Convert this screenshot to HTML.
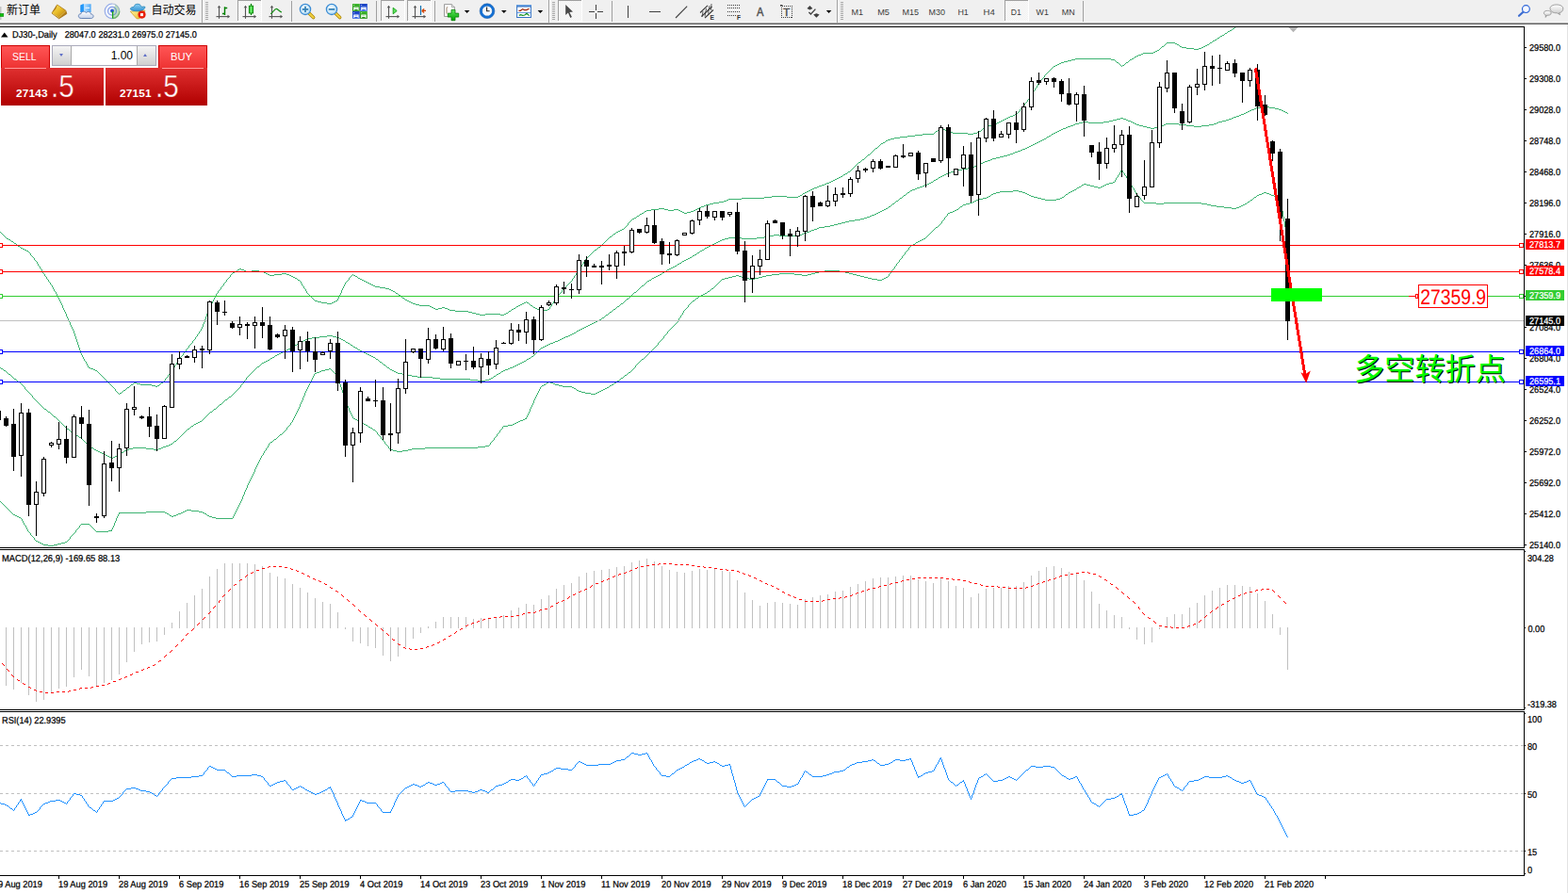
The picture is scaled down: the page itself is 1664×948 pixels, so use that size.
<!DOCTYPE html>
<html><head><meta charset="utf-8"><title>DJ30-,Daily</title>
<style>
html,body{margin:0;padding:0;background:#fff;}
body{width:1664px;height:948px;overflow:hidden;position:relative;font-family:"Liberation Sans",sans-serif;}
svg{display:block}
svg text{font-family:"Liberation Sans",sans-serif;}
.edge{position:absolute;left:1663px;top:26px;width:1px;height:922px;background:#e3e3e3}
</style></head><body>
<svg width="1664" height="948" viewBox="0 0 1664 948" style="position:absolute;left:0;top:0" font-family="Liberation Sans, sans-serif">
<defs>
<clipPath id="cm"><rect x="0" y="29" width="1617" height="552"/></clipPath>
<clipPath id="c2"><rect x="0" y="584" width="1617" height="169"/></clipPath>
<clipPath id="c3"><rect x="0" y="756" width="1617" height="173"/></clipPath>
</defs>
<g shape-rendering="crispEdges" fill="#000">
<rect x="0" y="28" width="1618" height="1"/>
<rect x="1617" y="28" width="1" height="902"/>
<rect x="0" y="581" width="1618" height="1"/>
<rect x="0" y="583" width="1618" height="1"/>
<rect x="0" y="753" width="1618" height="1"/>
<rect x="0" y="755" width="1618" height="1"/>
<rect x="0" y="929" width="1618" height="1"/>
<rect x="1617" y="582" width="1" height="1" fill="#fff"/>
<rect x="1617" y="754" width="1" height="1" fill="#fff"/>
</g>
<g clip-path="url(#cm)">
<path fill="none" stroke="#3cb371" stroke-width="1" shape-rendering="crispEdges" d="M1308 30.5h2M1305 32.5h2M1303 33.5h2M1300 35.5h2M1297 37.5h2M1295 38.5h2M1292 40.5h2M1289 42.5h2M1287 43.5h2M1238 45.5h9M1284 45.5h2M1247 46.5h2M1249 47.5h2M1281 47.5h2M1279 48.5h2M1233 49.5h2M1252 49.5h2M1277 49.5h2M1254 50.5h5M1275 50.5h2M1259 51.5h8M1272 51.5h3M1267 52.5h5M1228 53.5h2M1226 54.5h2M1224 55.5h2M1213 56.5h11M1211 57.5h2M1208 58.5h3M1206 59.5h2M1204 60.5h2M1141 62.5h38M1201 62.5h2M1137 63.5h4M1179 63.5h4M1199 63.5h2M1133 64.5h4M1129 65.5h4M1126 66.5h3M1185 66.5h2M1195 66.5h2M1124 67.5h2M1122 68.5h2M1120 69.5h2M1191 69.5h2M1118 70.5h2M1077 121.5h2M1075 122.5h2M1072 123.5h3M1070 124.5h2M1068 125.5h2M1066 126.5h2M1064 127.5h2M1062 128.5h2M1060 129.5h2M1058 130.5h2M1056 131.5h2M1053 132.5h3M1049 133.5h4M1046 134.5h3M999 136.5h2M1043 136.5h2M1001 137.5h2M993 139.5h2M1004 139.5h2M1039 139.5h2M1006 140.5h5M1037 140.5h2M1011 141.5h16M1033 141.5h4M979 142.5h12M1027 142.5h6M971 143.5h8M963 144.5h8M955 145.5h8M949 146.5h6M945 147.5h4M942 148.5h3M940 149.5h2M937 151.5h2M935 152.5h2M929 157.5h2M921 164.5h2M915 169.5h2M911 172.5h2M900 182.5h2M897 184.5h2M895 185.5h2M892 187.5h2M890 188.5h2M888 189.5h2M886 190.5h2M884 191.5h2M882 192.5h2M880 193.5h2M877 194.5h3M875 195.5h2M872 196.5h3M869 197.5h3M867 198.5h2M864 199.5h3M862 200.5h2M860 201.5h2M858 202.5h2M856 203.5h2M854 204.5h2M852 205.5h2M849 207.5h2M819 208.5h16M847 208.5h2M811 209.5h8M835 209.5h12M787 210.5h24M773 211.5h14M771 212.5h2M768 213.5h3M763 214.5h5M757 215.5h6M753 216.5h4M749 217.5h4M747 218.5h2M744 219.5h3M742 220.5h2M699 221.5h6M740 221.5h2M691 222.5h8M705 222.5h4M715 222.5h5M738 222.5h2M686 223.5h5M709 223.5h6M720 223.5h2M736 223.5h2M684 224.5h2M722 224.5h2M733 224.5h3M724 225.5h2M729 225.5h4M681 226.5h2M726 226.5h3M679 227.5h2M676 229.5h2M673 231.5h2M671 232.5h2M660 243.5h2M658 244.5h2M656 245.5h2M654 246.5h2M651 248.5h2M647 251.5h2M7 253.5h2M9 254.5h2M12 256.5h2M15 258.5h2M19 261.5h2M635 262.5h2M22 263.5h2M24 264.5h2M26 265.5h2M631 265.5h2M28 266.5h2M254 285.5h2M252 286.5h2M256 286.5h3M259 287.5h2M267 287.5h8M249 288.5h2M261 288.5h6M275 288.5h5M247 289.5h2M280 289.5h2M282 290.5h2M299 290.5h5M284 291.5h2M291 291.5h8M304 291.5h3M286 292.5h5M307 292.5h2M375 292.5h2M309 293.5h2M377 293.5h2M311 294.5h2M313 295.5h2M380 295.5h2M382 296.5h2M316 297.5h2M384 297.5h2M386 298.5h2M388 299.5h2M390 300.5h2M392 301.5h2M394 302.5h2M396 303.5h2M398 304.5h5M403 305.5h6M409 306.5h4M413 307.5h2M415 308.5h2M417 309.5h2M420 311.5h2M423 313.5h2M427 316.5h2M430 318.5h2M334 319.5h3M356 319.5h2M432 319.5h2M337 320.5h4M354 320.5h2M434 320.5h2M341 321.5h6M352 321.5h2M436 321.5h2M556 321.5h2M559 321.5h2M347 322.5h5M438 322.5h3M554 322.5h2M441 323.5h4M552 323.5h2M445 324.5h11M550 324.5h2M563 324.5h2M456 325.5h2M548 325.5h2M458 326.5h2M469 326.5h3M566 326.5h2M460 327.5h2M465 327.5h4M472 327.5h3M545 327.5h2M568 327.5h2M462 328.5h3M475 328.5h2M543 328.5h2M570 328.5h2M581 328.5h2M477 329.5h6M572 329.5h2M577 329.5h4M483 330.5h14M540 330.5h2M574 330.5h3M497 331.5h4M501 332.5h4M537 332.5h2M505 333.5h4M515 333.5h16M535 333.5h2M509 334.5h6M531 334.5h4M94 390.5h2M96 391.5h3M99 392.5h2M101 393.5h2M142 406.5h3M171 406.5h2M145 407.5h4M139 408.5h2M149 408.5h12M161 409.5h4M167 409.5h2M165 410.5h2M135 411.5h2M131 414.5h2M127 417.5h2M0 246.5h1M1 247.5h1M2 248.5h1M3 249.5h1M4 250.5h1M5 251.5h1M6 252.5h1M11 255.5h1M14 257.5h1M17 259.5h1M18 260.5h1M21 262.5h1M30 267.5h1M31 268.5h1M32.5 269v2M33 271.5h1M34 272.5h1M35 273.5h1M36.5 274v2M37 276.5h1M38 277.5h1M39.5 278v2M40.5 280v2M41 282.5h1M42.5 283v2M43 285.5h1M44.5 286v2M45.5 288v2M46 290.5h1M47.5 291v2M48 293.5h1M49.5 294v2M50 296.5h1M51.5 297v2M52 299.5h1M53.5 300v2M54 302.5h1M55.5 303v2M56.5 305v2M57.5 307v2M58 309.5h1M59.5 310v2M60.5 312v2M61.5 314v2M62.5 316v2M63.5 318v2M64.5 320v2M65.5 322v2M66.5 324v3M67.5 327v2M68.5 329v2M69.5 331v2M70.5 333v3M71.5 336v2M72.5 338v2M73.5 340v2M74.5 342v3M75.5 345v2M76.5 347v2M77.5 349v2M78.5 351v3M79.5 354v3M80.5 357v3M81.5 360v3M82.5 363v3M83.5 366v3M84.5 369v3M85.5 372v3M86.5 375v2M87.5 377v2M88.5 379v2M89.5 381v2M90 383.5h1M91.5 384v2M92.5 386v2M93.5 388v2M103 394.5h1M104 395.5h1M105 396.5h1M106 397.5h1M107 398.5h1M108 399.5h1M109 400.5h1M110 401.5h1M111 402.5h1M112 403.5h1M113 404.5h1M114 405.5h1M115 406.5h1M116 407.5h1M117 408.5h1M118 409.5h1M119 410.5h1M120 411.5h1M121 412.5h1M122.5 413v2M123 415.5h1M124 416.5h1M125 417.5h1M126 418.5h1M129 416.5h1M130 415.5h1M133 413.5h1M134 412.5h1M137 410.5h1M138 409.5h1M141 407.5h1M169 408.5h1M170 407.5h1M173 405.5h1M174 404.5h1M175.5 402v2M176 401.5h1M177 400.5h1M178.5 398v2M179 397.5h1M180 396.5h1M181.5 394v2M182 393.5h1M183.5 391v2M184 390.5h1M185.5 388v2M186 387.5h1M187.5 385v2M188 384.5h1M189.5 382v2M190 381.5h1M191.5 379v2M192 378.5h1M193 377.5h1M194.5 375v2M195 374.5h1M196 373.5h1M197.5 371v2M198 370.5h1M199 369.5h1M200.5 367v2M201 366.5h1M202 365.5h1M203 364.5h1M204.5 362v2M205 361.5h1M206 360.5h1M207.5 358v2M208 357.5h1M209.5 355v2M210 354.5h1M211.5 352v2M212 351.5h1M213.5 349v2M214.5 347v2M215.5 344v3M216.5 342v2M217.5 339v3M218.5 336v3M219.5 333v3M220.5 331v2M221.5 328v3M222.5 326v2M223.5 324v2M224.5 322v2M225.5 320v2M226.5 318v2M227.5 316v2M228.5 314v2M229.5 312v2M230 311.5h1M231.5 309v2M232 308.5h1M233 307.5h1M234.5 305v2M235 304.5h1M236 303.5h1M237.5 301v2M238 300.5h1M239 299.5h1M240.5 297v2M241 296.5h1M242 295.5h1M243 294.5h1M244.5 292v2M245 291.5h1M246 290.5h1M251 287.5h1M315 296.5h1M318 298.5h1M319.5 299v2M320.5 301v2M321 303.5h1M322.5 304v2M323 306.5h1M324.5 307v2M325.5 309v2M326 311.5h1M327 312.5h1M328 313.5h1M329 314.5h1M330 315.5h1M331 316.5h1M332 317.5h1M333 318.5h1M358.5 317v2M359.5 315v2M360.5 313v2M361.5 311v2M362.5 308v3M363.5 306v2M364.5 304v2M365.5 302v2M366.5 300v2M367 299.5h1M368 298.5h1M369 297.5h1M370.5 295v2M371 294.5h1M372 293.5h1M373 292.5h1M374 291.5h1M379 294.5h1M419 310.5h1M422 312.5h1M425 314.5h1M426 315.5h1M429 317.5h1M539 331.5h1M542 329.5h1M547 326.5h1M558 320.5h1M561 322.5h1M562 323.5h1M565 325.5h1M583.5 326v2M584 325.5h1M585.5 323v2M586 322.5h1M587.5 320v2M588 319.5h1M589.5 317v2M590 316.5h1M591 315.5h1M592.5 313v2M593 312.5h1M594 311.5h1M595 310.5h1M596.5 308v2M597 307.5h1M598 306.5h1M599 305.5h1M600 304.5h1M601 303.5h1M602 302.5h1M603 301.5h1M604 300.5h1M605 299.5h1M606 298.5h1M607.5 296v2M608 295.5h1M609.5 293v2M610 292.5h1M611.5 290v2M612 289.5h1M613.5 287v2M614 286.5h1M615.5 284v2M616 283.5h1M617.5 281v2M618 280.5h1M619.5 278v2M620 277.5h1M621.5 275v2M622 274.5h1M623 273.5h1M624 272.5h1M625 271.5h1M626 270.5h1M627 269.5h1M628 268.5h1M629 267.5h1M630 266.5h1M633 264.5h1M634 263.5h1M637 261.5h1M638 260.5h1M639 259.5h1M640 258.5h1M641 257.5h1M642 256.5h1M643 255.5h1M644 254.5h1M645 253.5h1M646 252.5h1M649 250.5h1M650 249.5h1M653 247.5h1M662 242.5h1M663 241.5h1M664 240.5h1M665 239.5h1M666.5 237v2M667 236.5h1M668 235.5h1M669 234.5h1M670 233.5h1M675 230.5h1M678 228.5h1M683 225.5h1M851 206.5h1M894 186.5h1M899 183.5h1M902 181.5h1M903 180.5h1M904 179.5h1M905 178.5h1M906 177.5h1M907 176.5h1M908 175.5h1M909 174.5h1M910 173.5h1M913 171.5h1M914 170.5h1M917 168.5h1M918 167.5h1M919 166.5h1M920 165.5h1M923 163.5h1M924 162.5h1M925 161.5h1M926 160.5h1M927 159.5h1M928 158.5h1M931 156.5h1M932 155.5h1M933 154.5h1M934 153.5h1M939 150.5h1M991 141.5h1M992 140.5h1M995 138.5h1M996 137.5h1M997 136.5h1M998 135.5h1M1003 138.5h1M1041 138.5h1M1042 137.5h1M1045 135.5h1M1079 120.5h1M1080 119.5h1M1081 118.5h1M1082.5 116v2M1083 115.5h1M1084 114.5h1M1085 113.5h1M1086 112.5h1M1087.5 110v2M1088 109.5h1M1089 108.5h1M1090.5 106v2M1091 105.5h1M1092 104.5h1M1093.5 102v2M1094 101.5h1M1095.5 99v2M1096.5 97v2M1097 96.5h1M1098.5 94v2M1099 93.5h1M1100.5 91v2M1101.5 89v2M1102 88.5h1M1103 87.5h1M1104.5 85v2M1105 84.5h1M1106 83.5h1M1107 82.5h1M1108.5 80v2M1109 79.5h1M1110 78.5h1M1111 77.5h1M1112 76.5h1M1113 75.5h1M1114 74.5h1M1115 73.5h1M1116 72.5h1M1117 71.5h1M1183 64.5h1M1184 65.5h1M1187 67.5h1M1188 68.5h1M1189 69.5h1M1190 70.5h1M1193 68.5h1M1194 67.5h1M1197 65.5h1M1198 64.5h1M1203 61.5h1M1230 52.5h1M1231 51.5h1M1232 50.5h1M1235 48.5h1M1236 47.5h1M1237 46.5h1M1251 48.5h1M1283 46.5h1M1286 44.5h1M1291 41.5h1M1294 39.5h1M1299 36.5h1M1302 34.5h1M1307 31.5h1M1310 29.5h1"/>
<path fill="none" stroke="#3cb371" stroke-width="1" shape-rendering="crispEdges" d="M1339 113.5h8M1333 114.5h6M1347 114.5h6M1331 115.5h2M1353 115.5h4M1328 116.5h3M1357 116.5h3M1326 117.5h2M1360 117.5h2M1324 118.5h2M1362 118.5h2M1322 119.5h2M1364 119.5h2M1320 120.5h2M1317 121.5h3M1315 122.5h2M1312 123.5h3M1309 124.5h3M1189 125.5h3M1307 125.5h2M1185 126.5h4M1192 126.5h3M1304 126.5h3M1181 127.5h4M1195 127.5h2M1301 127.5h3M1177 128.5h4M1197 128.5h3M1297 128.5h4M1149 129.5h6M1171 129.5h6M1200 129.5h2M1293 129.5h4M1145 130.5h4M1155 130.5h16M1202 130.5h2M1291 130.5h2M1141 131.5h4M1204 131.5h2M1237 131.5h14M1288 131.5h3M1139 132.5h2M1206 132.5h3M1235 132.5h2M1251 132.5h8M1283 132.5h5M1136 133.5h3M1209 133.5h4M1232 133.5h3M1259 133.5h8M1275 133.5h8M1133 134.5h3M1213 134.5h4M1229 134.5h3M1267 134.5h8M1131 135.5h2M1217 135.5h4M1225 135.5h4M1128 136.5h3M1221 136.5h4M1126 137.5h2M1124 138.5h2M1122 139.5h2M1120 140.5h2M1118 141.5h2M1116 142.5h2M1113 144.5h2M1111 145.5h2M1108 147.5h2M1106 148.5h2M1104 149.5h2M1102 150.5h2M1100 151.5h2M1098 152.5h2M1096 153.5h2M1094 154.5h2M1092 155.5h2M1090 156.5h2M1088 157.5h2M1085 158.5h3M1083 159.5h2M1080 160.5h3M1077 161.5h3M1075 162.5h2M1072 163.5h3M1069 164.5h3M1065 165.5h4M1061 166.5h4M1057 167.5h4M1053 168.5h4M1051 169.5h2M1048 170.5h3M1045 171.5h3M1043 172.5h2M1040 173.5h3M1038 174.5h2M1036 175.5h2M1034 176.5h2M1032 177.5h2M1027 178.5h5M1021 179.5h6M1017 180.5h4M1013 181.5h4M1009 182.5h4M1006 183.5h3M1004 184.5h2M1002 185.5h2M1000 186.5h2M998 187.5h2M996 188.5h2M993 190.5h2M991 191.5h2M988 193.5h2M986 194.5h2M984 195.5h2M981 196.5h3M979 197.5h2M976 198.5h3M973 199.5h3M971 200.5h2M968 201.5h3M966 202.5h2M963 204.5h2M959 207.5h2M955 210.5h2M951 213.5h2M947 216.5h2M943 219.5h2M940 221.5h2M938 222.5h2M936 223.5h2M934 224.5h2M932 225.5h2M930 226.5h2M928 227.5h2M925 228.5h3M923 229.5h2M920 230.5h3M917 231.5h3M913 232.5h4M907 233.5h6M901 234.5h6M897 235.5h4M893 236.5h4M889 237.5h4M885 238.5h4M881 239.5h4M875 240.5h6M869 241.5h6M867 242.5h2M864 243.5h3M861 244.5h3M859 245.5h2M856 246.5h3M853 247.5h3M851 248.5h2M821 249.5h6M848 249.5h3M817 250.5h4M827 250.5h21M811 251.5h6M773 252.5h14M803 252.5h8M769 253.5h4M787 253.5h16M766 254.5h3M764 255.5h2M762 256.5h2M760 257.5h2M758 258.5h2M756 259.5h2M754 260.5h2M752 261.5h2M750 262.5h2M748 263.5h2M745 265.5h2M743 266.5h2M740 268.5h2M737 270.5h2M735 271.5h2M732 273.5h2M730 274.5h2M728 275.5h2M726 276.5h2M724 277.5h2M721 279.5h2M719 280.5h2M716 282.5h2M714 283.5h2M712 284.5h2M710 285.5h2M708 286.5h2M705 288.5h2M703 289.5h2M700 291.5h2M698 292.5h2M696 293.5h2M694 294.5h2M692 295.5h2M689 297.5h2M687 298.5h2M681 303.5h2M673 310.5h2M665 317.5h2M659 322.5h2M655 325.5h2M651 328.5h2M647 331.5h2M643 334.5h2M639 337.5h2M636 339.5h2M634 340.5h2M632 341.5h2M630 342.5h2M628 343.5h2M626 344.5h2M624 345.5h2M622 346.5h2M620 347.5h2M618 348.5h2M616 349.5h2M614 350.5h2M612 351.5h2M609 353.5h2M607 354.5h2M605 355.5h2M347 356.5h6M603 356.5h2M339 357.5h8M353 357.5h4M600 357.5h3M331 358.5h8M357 358.5h3M598 358.5h2M326 359.5h5M360 359.5h2M596 359.5h2M324 360.5h2M362 360.5h2M594 360.5h2M322 361.5h2M364 361.5h2M592 361.5h2M320 362.5h2M589 362.5h3M318 363.5h2M367 363.5h2M587 363.5h2M316 364.5h2M369 364.5h2M584 364.5h3M582 365.5h2M313 366.5h2M372 366.5h2M580 366.5h2M311 367.5h2M578 367.5h2M375 368.5h2M576 368.5h2M308 369.5h2M377 369.5h2M574 369.5h2M306 370.5h2M304 371.5h2M380 371.5h2M302 372.5h2M382 372.5h2M300 373.5h2M384 373.5h2M298 374.5h2M386 374.5h2M296 375.5h2M388 375.5h2M294 376.5h2M390 376.5h2M292 377.5h2M392 377.5h2M394 378.5h2M564 378.5h2M289 379.5h2M396 379.5h2M287 380.5h2M561 380.5h2M399 381.5h2M559 381.5h2M284 382.5h2M282 383.5h2M556 383.5h2M280 384.5h2M403 384.5h2M554 384.5h2M278 385.5h2M552 385.5h2M550 386.5h2M407 387.5h2M548 387.5h2M546 388.5h2M273 389.5h2M544 389.5h2M411 390.5h2M541 390.5h3M1 391.5h2M539 391.5h2M414 392.5h2M536 392.5h3M4 393.5h2M416 393.5h2M534 393.5h2M418 394.5h2M532 394.5h2M420 395.5h2M422 396.5h5M529 396.5h2M9 397.5h2M427 397.5h6M527 397.5h2M433 398.5h4M437 399.5h6M524 399.5h2M443 400.5h16M459 401.5h8M521 401.5h2M15 402.5h2M467 402.5h32M519 402.5h2M499 403.5h8M515 403.5h4M507 404.5h8M19 405.5h2M243 421.5h2M239 424.5h2M233 429.5h2M47 434.5h2M227 434.5h2M51 437.5h2M223 437.5h2M57 442.5h2M212 447.5h2M210 448.5h2M208 449.5h2M206 450.5h2M203 452.5h2M71 455.5h2M199 455.5h2M75 458.5h2M79 461.5h2M81 462.5h2M84 464.5h2M185 468.5h2M181 471.5h2M179 472.5h2M176 473.5h3M95 474.5h2M173 474.5h3M97 475.5h2M141 475.5h14M171 475.5h2M137 476.5h4M155 476.5h8M168 476.5h3M100 477.5h2M134 477.5h3M163 477.5h5M102 478.5h2M132 478.5h2M104 479.5h2M106 480.5h2M129 480.5h2M108 481.5h2M127 481.5h2M110 482.5h2M112 483.5h2M124 483.5h2M114 484.5h2M122 484.5h2M116 485.5h2M120 485.5h2M118 486.5h2M0 390.5h1M3 392.5h1M6 394.5h1M7 395.5h1M8 396.5h1M11 398.5h1M12 399.5h1M13 400.5h1M14 401.5h1M17 403.5h1M18 404.5h1M21 406.5h1M22 407.5h1M23 408.5h1M24 409.5h1M25 410.5h1M26.5 411v2M27 413.5h1M28 414.5h1M29 415.5h1M30 416.5h1M31 417.5h1M32 418.5h1M33 419.5h1M34.5 420v2M35 422.5h1M36 423.5h1M37 424.5h1M38 425.5h1M39 426.5h1M40 427.5h1M41 428.5h1M42 429.5h1M43 430.5h1M44 431.5h1M45 432.5h1M46 433.5h1M49 435.5h1M50 436.5h1M53 438.5h1M54 439.5h1M55 440.5h1M56 441.5h1M59 443.5h1M60 444.5h1M61 445.5h1M62 446.5h1M63 447.5h1M64 448.5h1M65 449.5h1M66 450.5h1M67 451.5h1M68 452.5h1M69 453.5h1M70 454.5h1M73 456.5h1M74 457.5h1M77 459.5h1M78 460.5h1M83 463.5h1M86 465.5h1M87 466.5h1M88 467.5h1M89 468.5h1M90 469.5h1M91 470.5h1M92 471.5h1M93 472.5h1M94 473.5h1M99 476.5h1M126 482.5h1M131 479.5h1M183 470.5h1M184 469.5h1M187 467.5h1M188 466.5h1M189 465.5h1M190 464.5h1M191 463.5h1M192 462.5h1M193 461.5h1M194 460.5h1M195 459.5h1M196 458.5h1M197 457.5h1M198 456.5h1M201 454.5h1M202 453.5h1M205 451.5h1M214 446.5h1M215 445.5h1M216 444.5h1M217 443.5h1M218 442.5h1M219 441.5h1M220 440.5h1M221 439.5h1M222 438.5h1M225 436.5h1M226 435.5h1M229 433.5h1M230 432.5h1M231 431.5h1M232 430.5h1M235 428.5h1M236 427.5h1M237 426.5h1M238 425.5h1M241 423.5h1M242 422.5h1M245 420.5h1M246 419.5h1M247 418.5h1M248 417.5h1M249 416.5h1M250 415.5h1M251 414.5h1M252 413.5h1M253 412.5h1M254 411.5h1M255.5 409v2M256 408.5h1M257 407.5h1M258.5 405v2M259 404.5h1M260 403.5h1M261.5 401v2M262 400.5h1M263 399.5h1M264 398.5h1M265 397.5h1M266 396.5h1M267 395.5h1M268 394.5h1M269 393.5h1M270 392.5h1M271 391.5h1M272 390.5h1M275 388.5h1M276 387.5h1M277 386.5h1M286 381.5h1M291 378.5h1M310 368.5h1M315 365.5h1M366 362.5h1M371 365.5h1M374 367.5h1M379 370.5h1M398 380.5h1M401 382.5h1M402 383.5h1M405 385.5h1M406 386.5h1M409 388.5h1M410 389.5h1M413 391.5h1M523 400.5h1M526 398.5h1M531 395.5h1M558 382.5h1M563 379.5h1M566 377.5h1M567 376.5h1M568 375.5h1M569 374.5h1M570 373.5h1M571 372.5h1M572 371.5h1M573 370.5h1M611 352.5h1M638 338.5h1M641 336.5h1M642 335.5h1M645 333.5h1M646 332.5h1M649 330.5h1M650 329.5h1M653 327.5h1M654 326.5h1M657 324.5h1M658 323.5h1M661 321.5h1M662 320.5h1M663 319.5h1M664 318.5h1M667 316.5h1M668 315.5h1M669 314.5h1M670 313.5h1M671 312.5h1M672 311.5h1M675 309.5h1M676 308.5h1M677 307.5h1M678 306.5h1M679 305.5h1M680 304.5h1M683 302.5h1M684 301.5h1M685 300.5h1M686 299.5h1M691 296.5h1M702 290.5h1M707 287.5h1M718 281.5h1M723 278.5h1M734 272.5h1M739 269.5h1M742 267.5h1M747 264.5h1M942 220.5h1M945 218.5h1M946 217.5h1M949 215.5h1M950 214.5h1M953 212.5h1M954 211.5h1M957 209.5h1M958 208.5h1M961 206.5h1M962 205.5h1M965 203.5h1M990 192.5h1M995 189.5h1M1110 146.5h1M1115 143.5h1M1366 120.5h1"/>
<path fill="none" stroke="#3cb371" stroke-width="1" shape-rendering="crispEdges" d="M1181 193.5h2M1177 194.5h4M1150 195.5h3M1174 195.5h3M1148 196.5h2M1153 196.5h4M1172 196.5h2M1157 197.5h4M1170 197.5h2M1145 198.5h2M1161 198.5h4M1168 198.5h2M1143 199.5h2M1165 199.5h3M1140 201.5h2M1075 202.5h6M1138 202.5h2M1061 203.5h14M1081 203.5h4M1136 203.5h2M1057 204.5h4M1085 204.5h3M1134 204.5h2M1341 204.5h3M1054 205.5h3M1088 205.5h2M1339 205.5h2M1344 205.5h3M1052 206.5h2M1090 206.5h2M1131 206.5h2M1336 206.5h3M1347 206.5h2M1092 207.5h2M1334 207.5h2M1349 207.5h3M1049 208.5h2M1094 208.5h3M1352 208.5h3M1047 209.5h2M1097 209.5h4M1127 209.5h2M1331 209.5h2M1355 209.5h2M1043 210.5h4M1101 210.5h4M1125 210.5h2M1357 210.5h2M1038 211.5h5M1105 211.5h4M1121 211.5h4M1036 212.5h2M1109 212.5h12M1327 212.5h2M1034 213.5h2M1032 214.5h2M1324 214.5h2M1029 215.5h3M1214 215.5h13M1235 215.5h40M1025 216.5h4M1227 216.5h8M1275 216.5h6M1321 216.5h2M1022 217.5h3M1281 217.5h4M1319 217.5h2M1285 218.5h6M1317 218.5h2M1019 219.5h2M1291 219.5h8M1315 219.5h2M1299 220.5h8M1312 220.5h3M1307 221.5h5M1015 222.5h2M1013 223.5h2M1011 224.5h2M1008 225.5h3M1006 226.5h2M993 241.5h2M980 253.5h2M978 254.5h2M976 255.5h2M974 256.5h2M972 257.5h2M969 259.5h2M967 260.5h2M875 287.5h16M869 288.5h6M891 288.5h6M865 289.5h4M897 289.5h4M827 290.5h16M861 290.5h4M901 290.5h4M819 291.5h8M843 291.5h8M857 291.5h4M905 291.5h4M781 292.5h3M813 292.5h6M851 292.5h6M909 292.5h4M777 293.5h4M784 293.5h3M809 293.5h4M913 293.5h4M773 294.5h4M787 294.5h2M805 294.5h4M917 294.5h4M940 294.5h2M769 295.5h4M789 295.5h6M801 295.5h4M921 295.5h4M938 295.5h2M766 296.5h3M795 296.5h6M925 296.5h6M936 296.5h2M931 297.5h5M755 306.5h2M751 309.5h2M748 311.5h2M746 312.5h2M744 313.5h2M742 314.5h2M739 316.5h2M735 319.5h2M681 381.5h2M349 391.5h2M345 392.5h4M341 393.5h4M339 394.5h2M336 395.5h3M667 395.5h2M334 396.5h2M663 398.5h2M659 401.5h2M655 404.5h2M582 405.5h2M580 406.5h2M584 406.5h3M652 406.5h2M587 407.5h2M577 408.5h2M589 408.5h4M649 408.5h2M575 409.5h2M593 409.5h4M647 409.5h2M597 410.5h10M607 411.5h2M644 411.5h2M609 412.5h2M642 412.5h2M640 413.5h2M612 414.5h2M638 414.5h2M614 415.5h3M636 415.5h2M617 416.5h4M634 416.5h2M621 417.5h6M632 417.5h2M627 418.5h5M375 444.5h2M557 444.5h2M377 445.5h2M555 445.5h2M552 446.5h3M380 447.5h2M550 447.5h2M382 448.5h2M548 448.5h2M384 449.5h2M546 449.5h2M386 450.5h2M544 450.5h2M388 451.5h2M539 451.5h5M534 452.5h5M391 453.5h2M393 454.5h2M396 456.5h2M297 461.5h2M291 466.5h2M287 469.5h2M515 473.5h4M507 474.5h8M451 475.5h56M437 476.5h14M414 477.5h3M433 477.5h4M417 478.5h4M427 478.5h6M421 479.5h6M198 541.5h5M196 542.5h2M203 542.5h8M155 543.5h20M194 543.5h2M211 543.5h4M126 544.5h29M175 544.5h2M192 544.5h2M215 544.5h2M177 545.5h2M189 545.5h3M217 545.5h2M14 546.5h2M187 546.5h2M16 547.5h2M180 547.5h2M184 547.5h3M220 547.5h2M18 548.5h2M182 548.5h2M222 548.5h3M20 549.5h2M225 549.5h4M229 550.5h18M86 556.5h9M115 563.5h4M102 564.5h13M38 574.5h2M40 575.5h2M69 575.5h2M42 576.5h2M65 576.5h4M44 577.5h2M61 577.5h4M46 578.5h5M57 578.5h4M51 579.5h6M0 532.5h1M1 533.5h1M2 534.5h1M3 535.5h1M4 536.5h1M5 537.5h1M6 538.5h1M7 539.5h1M8 540.5h1M9 541.5h1M10 542.5h1M11 543.5h1M12 544.5h1M13 545.5h1M22 550.5h1M23.5 551v2M24.5 553v2M25.5 555v2M26 557.5h1M27.5 558v2M28.5 560v2M29.5 562v2M30 564.5h1M31 565.5h1M32.5 566v2M33 568.5h1M34 569.5h1M35 570.5h1M36.5 571v2M37 573.5h1M71 574.5h1M72 573.5h1M73 572.5h1M74.5 570v2M75 569.5h1M76 568.5h1M77 567.5h1M78 566.5h1M79 565.5h1M80.5 563v2M81 562.5h1M82 561.5h1M83 560.5h1M84.5 558v2M85 557.5h1M95 557.5h1M96 558.5h1M97 559.5h1M98 560.5h1M99 561.5h1M100 562.5h1M101 563.5h1M118 562.5h1M119.5 560v2M120.5 558v2M121.5 555v3M122.5 553v2M123.5 550v3M124.5 548v2M125.5 546v2M126 545.5h1M179 546.5h1M219 546.5h1M247.5 548v2M248.5 546v2M249.5 544v2M250.5 542v2M251.5 540v2M252.5 538v2M253.5 536v2M254.5 534v2M255.5 532v2M256.5 530v2M257.5 527v3M258.5 525v2M259.5 522v3M260.5 520v2M261.5 518v2M262.5 515v3M263.5 513v2M264.5 511v2M265.5 509v2M266.5 507v2M267.5 505v2M268.5 503v2M269.5 501v2M270.5 498v3M271.5 496v2M272.5 494v2M273.5 492v2M274.5 490v2M275.5 488v2M276.5 486v2M277.5 484v2M278 483.5h1M279.5 481v2M280.5 479v2M281 478.5h1M282.5 476v2M283 475.5h1M284.5 473v2M285.5 471v2M286 470.5h1M289 468.5h1M290 467.5h1M293 465.5h1M294 464.5h1M295 463.5h1M296 462.5h1M299 460.5h1M300 459.5h1M301 458.5h1M302 457.5h1M303 456.5h1M304.5 454v2M305 453.5h1M306 452.5h1M307 451.5h1M308.5 449v2M309 448.5h1M310.5 446v2M311.5 444v2M312.5 442v2M313.5 440v2M314.5 438v2M315.5 436v2M316.5 434v2M317.5 432v2M318.5 429v3M319.5 427v2M320.5 425v2M321.5 422v3M322.5 420v2M323.5 417v3M324.5 415v2M325.5 413v2M326.5 411v2M327.5 409v2M328.5 407v2M329.5 405v2M330.5 403v2M331.5 401v2M332.5 399v2M333.5 397v2M351 392.5h1M352 393.5h1M353 394.5h1M354 395.5h1M355 396.5h1M356 397.5h1M357 398.5h1M358.5 399v2M359.5 401v3M360.5 404v4M361.5 408v3M362.5 411v3M363.5 414v3M364.5 417v4M365.5 421v3M366.5 424v3M367.5 427v2M368.5 429v2M369.5 431v2M370.5 433v3M371.5 436v2M372.5 438v2M373.5 440v2M374.5 442v2M379 446.5h1M390 452.5h1M395 455.5h1M398 457.5h1M399 458.5h1M400.5 459v2M401 461.5h1M402 462.5h1M403 463.5h1M404.5 464v2M405 466.5h1M406 467.5h1M407 468.5h1M408.5 469v2M409 471.5h1M410 472.5h1M411 473.5h1M412.5 474v2M413 476.5h1M519 472.5h1M520.5 470v2M521 469.5h1M522 468.5h1M523 467.5h1M524.5 465v2M525 464.5h1M526 463.5h1M527.5 461v2M528 460.5h1M529 459.5h1M530.5 457v2M531 456.5h1M532 455.5h1M533.5 453v2M558 443.5h1M559.5 441v2M560.5 439v2M561.5 437v2M562.5 434v3M563.5 432v2M564.5 430v2M565.5 428v2M566.5 425v3M567.5 423v2M568.5 421v2M569.5 419v2M570.5 417v2M571.5 415v2M572.5 413v2M573.5 411v2M574 410.5h1M579 407.5h1M611 413.5h1M646 410.5h1M651 407.5h1M654 405.5h1M657 403.5h1M658 402.5h1M661 400.5h1M662 399.5h1M665 397.5h1M666 396.5h1M669 394.5h1M670 393.5h1M671 392.5h1M672 391.5h1M673 390.5h1M674.5 388v2M675 387.5h1M676 386.5h1M677 385.5h1M678 384.5h1M679 383.5h1M680 382.5h1M683 380.5h1M684 379.5h1M685 378.5h1M686 377.5h1M687 376.5h1M688 375.5h1M689 374.5h1M690 373.5h1M691 372.5h1M692 371.5h1M693 370.5h1M694 369.5h1M695 368.5h1M696 367.5h1M697 366.5h1M698.5 364v2M699 363.5h1M700 362.5h1M701 361.5h1M702 360.5h1M703 359.5h1M704.5 357v2M705 356.5h1M706 355.5h1M707 354.5h1M708.5 352v2M709 351.5h1M710 350.5h1M711 349.5h1M712 348.5h1M713 347.5h1M714 346.5h1M715 345.5h1M716 344.5h1M717 343.5h1M718 342.5h1M719.5 340v2M720.5 338v2M721 337.5h1M722.5 335v2M723 334.5h1M724.5 332v2M725.5 330v2M726 329.5h1M727 328.5h1M728 327.5h1M729 326.5h1M730.5 324v2M731 323.5h1M732 322.5h1M733 321.5h1M734 320.5h1M737 318.5h1M738 317.5h1M741 315.5h1M750 310.5h1M753 308.5h1M754 307.5h1M757 305.5h1M758 304.5h1M759 303.5h1M760 302.5h1M761 301.5h1M762 300.5h1M763 299.5h1M764 298.5h1M765 297.5h1M942 293.5h1M943.5 291v2M944 290.5h1M945 289.5h1M946.5 287v2M947 286.5h1M948 285.5h1M949.5 283v2M950 282.5h1M951.5 280v2M952 279.5h1M953 278.5h1M954.5 276v2M955 275.5h1M956 274.5h1M957.5 272v2M958 271.5h1M959 270.5h1M960.5 268v2M961 267.5h1M962 266.5h1M963 265.5h1M964.5 263v2M965 262.5h1M966 261.5h1M971 258.5h1M982 252.5h1M983 251.5h1M984 250.5h1M985 249.5h1M986 248.5h1M987 247.5h1M988 246.5h1M989 245.5h1M990 244.5h1M991 243.5h1M992 242.5h1M995 240.5h1M996 239.5h1M997 238.5h1M998 237.5h1M999.5 235v2M1000 234.5h1M1001 233.5h1M1002.5 231v2M1003 230.5h1M1004 229.5h1M1005.5 227v2M1017 221.5h1M1018 220.5h1M1021 218.5h1M1051 207.5h1M1129 208.5h1M1130 207.5h1M1133 205.5h1M1142 200.5h1M1147 197.5h1M1183.5 191v2M1184.5 189v2M1185 188.5h1M1186.5 186v2M1187 185.5h1M1188.5 183v2M1189.5 181v2M1190 180.5h1M1191.5 181v2M1192 183.5h1M1193.5 184v2M1194 186.5h1M1195.5 187v2M1196 189.5h1M1197.5 190v2M1198 192.5h1M1199.5 193v2M1200.5 195v2M1201.5 197v2M1202 199.5h1M1203.5 200v2M1204.5 202v2M1205.5 204v2M1206 206.5h1M1207 207.5h1M1208 208.5h1M1209 209.5h1M1210.5 210v2M1211 212.5h1M1212 213.5h1M1213 214.5h1M1323 215.5h1M1326 213.5h1M1329 211.5h1M1330 210.5h1M1333 208.5h1M1358.5 211v2M1359.5 213v6M1360.5 219v5M1361.5 224v6M1362.5 230v5M1363.5 235v6M1364.5 241v5M1365.5 246v6M1366.5 252v3"/>
<rect x="0" y="340" width="1617" height="1" fill="#c0c0c0" shape-rendering="crispEdges"/>
<g shape-rendering="crispEdges">
<rect x="0" y="260" width="1617" height="1" fill="#ff0000"/>
<rect x="-1.5" y="258.5" width="4" height="4" fill="#fff" stroke="#ff0000" stroke-width="1"/>
<rect x="1612.5" y="258.5" width="4" height="4" fill="#fff" stroke="#ff0000" stroke-width="1"/>
<rect x="0" y="288" width="1617" height="1" fill="#ff0000"/>
<rect x="-1.5" y="286.5" width="4" height="4" fill="#fff" stroke="#ff0000" stroke-width="1"/>
<rect x="1612.5" y="286.5" width="4" height="4" fill="#fff" stroke="#ff0000" stroke-width="1"/>
<rect x="0" y="373" width="1617" height="1" fill="#0000ff"/>
<rect x="-1.5" y="371.5" width="4" height="4" fill="#fff" stroke="#0000ff" stroke-width="1"/>
<rect x="1612.5" y="371.5" width="4" height="4" fill="#fff" stroke="#0000ff" stroke-width="1"/>
<rect x="0" y="405" width="1617" height="1" fill="#0000ff"/>
<rect x="-1.5" y="403.5" width="4" height="4" fill="#fff" stroke="#0000ff" stroke-width="1"/>
<rect x="1612.5" y="403.5" width="4" height="4" fill="#fff" stroke="#0000ff" stroke-width="1"/>
<rect x="0" y="314" width="1495" height="1" fill="#32cd32"/>
<rect x="1495" y="314" width="10" height="1" fill="#ff0000"/>
<rect x="1579" y="314" width="38" height="1" fill="#32cd32"/>
<rect x="-1.5" y="312.5" width="4" height="4" fill="#fff" stroke="#32cd32" stroke-width="1"/>
<rect x="1612.5" y="312.5" width="4" height="4" fill="#fff" stroke="#32cd32" stroke-width="1"/>
</g>
<g shape-rendering="crispEdges">
<rect x="6" y="442" width="1" height="11" fill="#000"/>
<rect x="4" y="444" width="5" height="8" fill="#000"/>
<rect x="14" y="434" width="1" height="66" fill="#000"/>
<rect x="12" y="450" width="5" height="35" fill="#000"/>
<rect x="22" y="428" width="1" height="78" fill="#000"/>
<rect x="20" y="438" width="5" height="46" fill="#000"/>
<rect x="21" y="439" width="3" height="44" fill="#fff"/>
<rect x="30" y="434" width="1" height="114" fill="#000"/>
<rect x="28" y="438" width="5" height="98" fill="#000"/>
<rect x="38" y="511" width="1" height="58" fill="#000"/>
<rect x="36" y="522" width="5" height="14" fill="#000"/>
<rect x="37" y="523" width="3" height="12" fill="#fff"/>
<rect x="46" y="485" width="1" height="42" fill="#000"/>
<rect x="44" y="487" width="5" height="37" fill="#000"/>
<rect x="45" y="488" width="3" height="35" fill="#fff"/>
<rect x="54" y="469" width="1" height="6" fill="#000"/>
<rect x="52" y="470" width="5" height="3" fill="#000"/>
<rect x="53" y="471" width="3" height="1" fill="#fff"/>
<rect x="62" y="448" width="1" height="29" fill="#000"/>
<rect x="60" y="466" width="5" height="6" fill="#000"/>
<rect x="61" y="467" width="3" height="4" fill="#fff"/>
<rect x="70" y="452" width="1" height="40" fill="#000"/>
<rect x="68" y="466" width="5" height="20" fill="#000"/>
<rect x="78" y="440" width="1" height="46" fill="#000"/>
<rect x="76" y="442" width="5" height="44" fill="#000"/>
<rect x="77" y="443" width="3" height="42" fill="#fff"/>
<rect x="86" y="431" width="1" height="35" fill="#000"/>
<rect x="84" y="443" width="5" height="7" fill="#000"/>
<rect x="94" y="435" width="1" height="102" fill="#000"/>
<rect x="92" y="450" width="5" height="65" fill="#000"/>
<rect x="102" y="545" width="1" height="10" fill="#000"/>
<rect x="100" y="548" width="5" height="2" fill="#000"/>
<rect x="110" y="479" width="1" height="71" fill="#000"/>
<rect x="108" y="492" width="5" height="56" fill="#000"/>
<rect x="109" y="493" width="3" height="54" fill="#fff"/>
<rect x="118" y="468" width="1" height="43" fill="#000"/>
<rect x="116" y="491" width="5" height="6" fill="#000"/>
<rect x="126" y="471" width="1" height="51" fill="#000"/>
<rect x="124" y="476" width="5" height="21" fill="#000"/>
<rect x="125" y="477" width="3" height="19" fill="#fff"/>
<rect x="134" y="428" width="1" height="56" fill="#000"/>
<rect x="132" y="434" width="5" height="42" fill="#000"/>
<rect x="133" y="435" width="3" height="40" fill="#fff"/>
<rect x="142" y="410" width="1" height="31" fill="#000"/>
<rect x="140" y="432" width="5" height="3" fill="#000"/>
<rect x="141" y="433" width="3" height="1" fill="#fff"/>
<rect x="150" y="441" width="1" height="4" fill="#000"/>
<rect x="148" y="442" width="5" height="2" fill="#000"/>
<rect x="158" y="432" width="1" height="32" fill="#000"/>
<rect x="156" y="442" width="5" height="11" fill="#000"/>
<rect x="166" y="440" width="1" height="39" fill="#000"/>
<rect x="164" y="452" width="5" height="14" fill="#000"/>
<rect x="174" y="430" width="1" height="36" fill="#000"/>
<rect x="172" y="431" width="5" height="35" fill="#000"/>
<rect x="173" y="432" width="3" height="33" fill="#fff"/>
<rect x="182" y="376" width="1" height="57" fill="#000"/>
<rect x="180" y="386" width="5" height="47" fill="#000"/>
<rect x="181" y="387" width="3" height="45" fill="#fff"/>
<rect x="190" y="373" width="1" height="19" fill="#000"/>
<rect x="188" y="380" width="5" height="7" fill="#000"/>
<rect x="189" y="381" width="3" height="5" fill="#fff"/>
<rect x="198" y="377" width="1" height="3" fill="#000"/>
<rect x="196" y="378" width="5" height="2" fill="#000"/>
<rect x="206" y="367" width="1" height="18" fill="#000"/>
<rect x="204" y="371" width="5" height="9" fill="#000"/>
<rect x="205" y="372" width="3" height="7" fill="#fff"/>
<rect x="214" y="367" width="1" height="24" fill="#000"/>
<rect x="212" y="370" width="5" height="2" fill="#000"/>
<rect x="222" y="319" width="1" height="57" fill="#000"/>
<rect x="220" y="320" width="5" height="52" fill="#000"/>
<rect x="221" y="321" width="3" height="50" fill="#fff"/>
<rect x="230" y="319" width="1" height="26" fill="#000"/>
<rect x="228" y="321" width="5" height="10" fill="#000"/>
<rect x="238" y="319" width="1" height="16" fill="#000"/>
<rect x="236" y="331" width="5" height="1" fill="#000"/>
<rect x="246" y="341" width="1" height="8" fill="#000"/>
<rect x="244" y="343" width="5" height="5" fill="#000"/>
<rect x="254" y="336" width="1" height="20" fill="#000"/>
<rect x="252" y="344" width="5" height="4" fill="#000"/>
<rect x="253" y="345" width="3" height="2" fill="#fff"/>
<rect x="262" y="342" width="1" height="18" fill="#000"/>
<rect x="260" y="344" width="5" height="2" fill="#000"/>
<rect x="270" y="336" width="1" height="34" fill="#000"/>
<rect x="268" y="342" width="5" height="4" fill="#000"/>
<rect x="269" y="343" width="3" height="2" fill="#fff"/>
<rect x="278" y="326" width="1" height="33" fill="#000"/>
<rect x="276" y="342" width="5" height="4" fill="#000"/>
<rect x="286" y="336" width="1" height="36" fill="#000"/>
<rect x="284" y="345" width="5" height="26" fill="#000"/>
<rect x="294" y="354" width="1" height="5" fill="#000"/>
<rect x="292" y="355" width="5" height="3" fill="#000"/>
<rect x="302" y="345" width="1" height="36" fill="#000"/>
<rect x="300" y="350" width="5" height="7" fill="#000"/>
<rect x="301" y="351" width="3" height="5" fill="#fff"/>
<rect x="310" y="347" width="1" height="48" fill="#000"/>
<rect x="308" y="350" width="5" height="23" fill="#000"/>
<rect x="318" y="357" width="1" height="35" fill="#000"/>
<rect x="316" y="362" width="5" height="10" fill="#000"/>
<rect x="317" y="363" width="3" height="8" fill="#fff"/>
<rect x="326" y="352" width="1" height="32" fill="#000"/>
<rect x="324" y="362" width="5" height="11" fill="#000"/>
<rect x="334" y="358" width="1" height="37" fill="#000"/>
<rect x="332" y="373" width="5" height="9" fill="#000"/>
<rect x="342" y="373" width="1" height="4" fill="#000"/>
<rect x="340" y="374" width="5" height="3" fill="#000"/>
<rect x="341" y="375" width="3" height="1" fill="#fff"/>
<rect x="350" y="360" width="1" height="21" fill="#000"/>
<rect x="348" y="364" width="5" height="9" fill="#000"/>
<rect x="349" y="365" width="3" height="7" fill="#fff"/>
<rect x="358" y="352" width="1" height="63" fill="#000"/>
<rect x="356" y="364" width="5" height="43" fill="#000"/>
<rect x="366" y="403" width="1" height="82" fill="#000"/>
<rect x="364" y="406" width="5" height="67" fill="#000"/>
<rect x="374" y="454" width="1" height="58" fill="#000"/>
<rect x="372" y="459" width="5" height="14" fill="#000"/>
<rect x="373" y="460" width="3" height="12" fill="#fff"/>
<rect x="382" y="411" width="1" height="59" fill="#000"/>
<rect x="380" y="415" width="5" height="45" fill="#000"/>
<rect x="381" y="416" width="3" height="43" fill="#fff"/>
<rect x="390" y="421" width="1" height="5" fill="#000"/>
<rect x="388" y="423" width="5" height="3" fill="#000"/>
<rect x="398" y="403" width="1" height="29" fill="#000"/>
<rect x="396" y="425" width="5" height="1" fill="#000"/>
<rect x="406" y="411" width="1" height="56" fill="#000"/>
<rect x="404" y="425" width="5" height="37" fill="#000"/>
<rect x="414" y="428" width="1" height="51" fill="#000"/>
<rect x="412" y="460" width="5" height="2" fill="#000"/>
<rect x="422" y="402" width="1" height="69" fill="#000"/>
<rect x="420" y="412" width="5" height="48" fill="#000"/>
<rect x="421" y="413" width="3" height="46" fill="#fff"/>
<rect x="430" y="360" width="1" height="58" fill="#000"/>
<rect x="428" y="384" width="5" height="29" fill="#000"/>
<rect x="429" y="385" width="3" height="27" fill="#fff"/>
<rect x="438" y="370" width="1" height="5" fill="#000"/>
<rect x="436" y="370" width="5" height="4" fill="#000"/>
<rect x="437" y="371" width="3" height="2" fill="#fff"/>
<rect x="446" y="370" width="1" height="31" fill="#000"/>
<rect x="444" y="370" width="5" height="11" fill="#000"/>
<rect x="454" y="348" width="1" height="38" fill="#000"/>
<rect x="452" y="360" width="5" height="22" fill="#000"/>
<rect x="453" y="361" width="3" height="20" fill="#fff"/>
<rect x="462" y="355" width="1" height="16" fill="#000"/>
<rect x="460" y="360" width="5" height="10" fill="#000"/>
<rect x="470" y="347" width="1" height="26" fill="#000"/>
<rect x="468" y="360" width="5" height="11" fill="#000"/>
<rect x="469" y="361" width="3" height="9" fill="#fff"/>
<rect x="478" y="354" width="1" height="37" fill="#000"/>
<rect x="476" y="359" width="5" height="27" fill="#000"/>
<rect x="486" y="383" width="1" height="5" fill="#000"/>
<rect x="484" y="383" width="5" height="5" fill="#000"/>
<rect x="485" y="384" width="3" height="3" fill="#fff"/>
<rect x="494" y="376" width="1" height="17" fill="#000"/>
<rect x="492" y="383" width="5" height="1" fill="#000"/>
<rect x="502" y="368" width="1" height="24" fill="#000"/>
<rect x="500" y="383" width="5" height="7" fill="#000"/>
<rect x="510" y="375" width="1" height="32" fill="#000"/>
<rect x="508" y="380" width="5" height="10" fill="#000"/>
<rect x="509" y="381" width="3" height="8" fill="#fff"/>
<rect x="518" y="373" width="1" height="25" fill="#000"/>
<rect x="516" y="381" width="5" height="7" fill="#000"/>
<rect x="526" y="361" width="1" height="31" fill="#000"/>
<rect x="524" y="369" width="5" height="18" fill="#000"/>
<rect x="525" y="370" width="3" height="16" fill="#fff"/>
<rect x="534" y="363" width="1" height="2" fill="#000"/>
<rect x="532" y="364" width="5" height="1" fill="#000"/>
<rect x="542" y="343" width="1" height="23" fill="#000"/>
<rect x="540" y="350" width="5" height="15" fill="#000"/>
<rect x="541" y="351" width="3" height="13" fill="#fff"/>
<rect x="550" y="344" width="1" height="18" fill="#000"/>
<rect x="548" y="350" width="5" height="3" fill="#000"/>
<rect x="558" y="331" width="1" height="34" fill="#000"/>
<rect x="556" y="339" width="5" height="14" fill="#000"/>
<rect x="557" y="340" width="3" height="12" fill="#fff"/>
<rect x="566" y="336" width="1" height="40" fill="#000"/>
<rect x="564" y="339" width="5" height="22" fill="#000"/>
<rect x="574" y="324" width="1" height="38" fill="#000"/>
<rect x="572" y="326" width="5" height="35" fill="#000"/>
<rect x="573" y="327" width="3" height="33" fill="#fff"/>
<rect x="582" y="319" width="1" height="6" fill="#000"/>
<rect x="580" y="321" width="5" height="3" fill="#000"/>
<rect x="581" y="322" width="3" height="1" fill="#fff"/>
<rect x="590" y="302" width="1" height="22" fill="#000"/>
<rect x="588" y="304" width="5" height="18" fill="#000"/>
<rect x="589" y="305" width="3" height="16" fill="#fff"/>
<rect x="598" y="299" width="1" height="13" fill="#000"/>
<rect x="596" y="305" width="5" height="2" fill="#000"/>
<rect x="606" y="301" width="1" height="16" fill="#000"/>
<rect x="604" y="307" width="5" height="1" fill="#000"/>
<rect x="614" y="270" width="1" height="42" fill="#000"/>
<rect x="612" y="276" width="5" height="32" fill="#000"/>
<rect x="613" y="277" width="3" height="30" fill="#fff"/>
<rect x="622" y="272" width="1" height="22" fill="#000"/>
<rect x="620" y="276" width="5" height="7" fill="#000"/>
<rect x="630" y="280" width="1" height="4" fill="#000"/>
<rect x="628" y="282" width="5" height="2" fill="#000"/>
<rect x="638" y="277" width="1" height="25" fill="#000"/>
<rect x="636" y="282" width="5" height="2" fill="#000"/>
<rect x="646" y="270" width="1" height="17" fill="#000"/>
<rect x="644" y="281" width="5" height="2" fill="#000"/>
<rect x="654" y="266" width="1" height="30" fill="#000"/>
<rect x="652" y="268" width="5" height="15" fill="#000"/>
<rect x="653" y="269" width="3" height="13" fill="#fff"/>
<rect x="662" y="261" width="1" height="21" fill="#000"/>
<rect x="660" y="267" width="5" height="2" fill="#000"/>
<rect x="670" y="242" width="1" height="27" fill="#000"/>
<rect x="668" y="244" width="5" height="24" fill="#000"/>
<rect x="669" y="245" width="3" height="22" fill="#fff"/>
<rect x="678" y="243" width="1" height="5" fill="#000"/>
<rect x="676" y="243" width="5" height="4" fill="#000"/>
<rect x="686" y="231" width="1" height="17" fill="#000"/>
<rect x="684" y="239" width="5" height="8" fill="#000"/>
<rect x="685" y="240" width="3" height="6" fill="#fff"/>
<rect x="694" y="223" width="1" height="36" fill="#000"/>
<rect x="692" y="239" width="5" height="19" fill="#000"/>
<rect x="702" y="253" width="1" height="28" fill="#000"/>
<rect x="700" y="256" width="5" height="14" fill="#000"/>
<rect x="710" y="257" width="1" height="23" fill="#000"/>
<rect x="708" y="269" width="5" height="2" fill="#000"/>
<rect x="718" y="254" width="1" height="18" fill="#000"/>
<rect x="716" y="255" width="5" height="16" fill="#000"/>
<rect x="717" y="256" width="3" height="14" fill="#fff"/>
<rect x="726" y="247" width="1" height="3" fill="#000"/>
<rect x="724" y="247" width="5" height="3" fill="#000"/>
<rect x="725" y="248" width="3" height="1" fill="#fff"/>
<rect x="734" y="233" width="1" height="16" fill="#000"/>
<rect x="732" y="234" width="5" height="14" fill="#000"/>
<rect x="733" y="235" width="3" height="12" fill="#fff"/>
<rect x="742" y="221" width="1" height="18" fill="#000"/>
<rect x="740" y="224" width="5" height="10" fill="#000"/>
<rect x="741" y="225" width="3" height="8" fill="#fff"/>
<rect x="750" y="218" width="1" height="14" fill="#000"/>
<rect x="748" y="224" width="5" height="6" fill="#000"/>
<rect x="758" y="224" width="1" height="10" fill="#000"/>
<rect x="756" y="224" width="5" height="7" fill="#000"/>
<rect x="757" y="225" width="3" height="5" fill="#fff"/>
<rect x="766" y="224" width="1" height="10" fill="#000"/>
<rect x="764" y="224" width="5" height="7" fill="#000"/>
<rect x="774" y="225" width="1" height="5" fill="#000"/>
<rect x="772" y="225" width="5" height="3" fill="#000"/>
<rect x="773" y="226" width="3" height="1" fill="#fff"/>
<rect x="782" y="215" width="1" height="55" fill="#000"/>
<rect x="780" y="225" width="5" height="42" fill="#000"/>
<rect x="790" y="256" width="1" height="65" fill="#000"/>
<rect x="788" y="266" width="5" height="32" fill="#000"/>
<rect x="798" y="271" width="1" height="40" fill="#000"/>
<rect x="796" y="282" width="5" height="14" fill="#000"/>
<rect x="797" y="283" width="3" height="12" fill="#fff"/>
<rect x="806" y="265" width="1" height="27" fill="#000"/>
<rect x="804" y="275" width="5" height="8" fill="#000"/>
<rect x="805" y="276" width="3" height="6" fill="#fff"/>
<rect x="814" y="234" width="1" height="42" fill="#000"/>
<rect x="812" y="237" width="5" height="39" fill="#000"/>
<rect x="813" y="238" width="3" height="37" fill="#fff"/>
<rect x="822" y="233" width="1" height="4" fill="#000"/>
<rect x="820" y="234" width="5" height="3" fill="#000"/>
<rect x="830" y="236" width="1" height="18" fill="#000"/>
<rect x="828" y="236" width="5" height="14" fill="#000"/>
<rect x="838" y="243" width="1" height="29" fill="#000"/>
<rect x="836" y="248" width="5" height="3" fill="#000"/>
<rect x="846" y="241" width="1" height="21" fill="#000"/>
<rect x="844" y="245" width="5" height="6" fill="#000"/>
<rect x="845" y="246" width="3" height="4" fill="#fff"/>
<rect x="854" y="207" width="1" height="49" fill="#000"/>
<rect x="852" y="208" width="5" height="38" fill="#000"/>
<rect x="853" y="209" width="3" height="36" fill="#fff"/>
<rect x="862" y="203" width="1" height="32" fill="#000"/>
<rect x="860" y="208" width="5" height="12" fill="#000"/>
<rect x="870" y="214" width="1" height="5" fill="#000"/>
<rect x="868" y="215" width="5" height="4" fill="#000"/>
<rect x="878" y="197" width="1" height="23" fill="#000"/>
<rect x="876" y="213" width="5" height="6" fill="#000"/>
<rect x="877" y="214" width="3" height="4" fill="#fff"/>
<rect x="886" y="199" width="1" height="20" fill="#000"/>
<rect x="884" y="206" width="5" height="8" fill="#000"/>
<rect x="885" y="207" width="3" height="6" fill="#fff"/>
<rect x="894" y="199" width="1" height="11" fill="#000"/>
<rect x="892" y="205" width="5" height="2" fill="#000"/>
<rect x="902" y="188" width="1" height="21" fill="#000"/>
<rect x="900" y="190" width="5" height="16" fill="#000"/>
<rect x="901" y="191" width="3" height="14" fill="#fff"/>
<rect x="910" y="176" width="1" height="18" fill="#000"/>
<rect x="908" y="181" width="5" height="9" fill="#000"/>
<rect x="909" y="182" width="3" height="7" fill="#fff"/>
<rect x="918" y="178" width="1" height="5" fill="#000"/>
<rect x="916" y="179" width="5" height="2" fill="#000"/>
<rect x="926" y="169" width="1" height="14" fill="#000"/>
<rect x="924" y="171" width="5" height="8" fill="#000"/>
<rect x="925" y="172" width="3" height="6" fill="#fff"/>
<rect x="934" y="169" width="1" height="11" fill="#000"/>
<rect x="932" y="171" width="5" height="8" fill="#000"/>
<rect x="942" y="176" width="1" height="2" fill="#000"/>
<rect x="940" y="176" width="5" height="2" fill="#000"/>
<rect x="950" y="164" width="1" height="14" fill="#000"/>
<rect x="948" y="165" width="5" height="13" fill="#000"/>
<rect x="949" y="166" width="3" height="11" fill="#fff"/>
<rect x="958" y="153" width="1" height="15" fill="#000"/>
<rect x="956" y="165" width="5" height="2" fill="#000"/>
<rect x="966" y="162" width="1" height="4" fill="#000"/>
<rect x="964" y="162" width="5" height="4" fill="#000"/>
<rect x="965" y="163" width="3" height="2" fill="#fff"/>
<rect x="974" y="160" width="1" height="31" fill="#000"/>
<rect x="972" y="162" width="5" height="23" fill="#000"/>
<rect x="982" y="173" width="1" height="26" fill="#000"/>
<rect x="980" y="173" width="5" height="11" fill="#000"/>
<rect x="981" y="174" width="3" height="9" fill="#fff"/>
<rect x="990" y="168" width="1" height="4" fill="#000"/>
<rect x="988" y="168" width="5" height="4" fill="#000"/>
<rect x="998" y="133" width="1" height="40" fill="#000"/>
<rect x="996" y="135" width="5" height="36" fill="#000"/>
<rect x="997" y="136" width="3" height="34" fill="#fff"/>
<rect x="1006" y="132" width="1" height="56" fill="#000"/>
<rect x="1004" y="135" width="5" height="33" fill="#000"/>
<rect x="1014" y="179" width="1" height="7" fill="#000"/>
<rect x="1012" y="179" width="5" height="7" fill="#000"/>
<rect x="1013" y="180" width="3" height="5" fill="#fff"/>
<rect x="1022" y="155" width="1" height="43" fill="#000"/>
<rect x="1020" y="164" width="5" height="15" fill="#000"/>
<rect x="1021" y="165" width="3" height="13" fill="#fff"/>
<rect x="1030" y="151" width="1" height="64" fill="#000"/>
<rect x="1028" y="164" width="5" height="44" fill="#000"/>
<rect x="1038" y="139" width="1" height="90" fill="#000"/>
<rect x="1036" y="146" width="5" height="61" fill="#000"/>
<rect x="1037" y="147" width="3" height="59" fill="#fff"/>
<rect x="1046" y="125" width="1" height="26" fill="#000"/>
<rect x="1044" y="126" width="5" height="21" fill="#000"/>
<rect x="1045" y="127" width="3" height="19" fill="#fff"/>
<rect x="1054" y="117" width="1" height="33" fill="#000"/>
<rect x="1052" y="126" width="5" height="21" fill="#000"/>
<rect x="1062" y="139" width="1" height="7" fill="#000"/>
<rect x="1060" y="142" width="5" height="4" fill="#000"/>
<rect x="1061" y="143" width="3" height="2" fill="#fff"/>
<rect x="1070" y="130" width="1" height="17" fill="#000"/>
<rect x="1068" y="130" width="5" height="13" fill="#000"/>
<rect x="1069" y="131" width="3" height="11" fill="#fff"/>
<rect x="1078" y="118" width="1" height="34" fill="#000"/>
<rect x="1076" y="130" width="5" height="8" fill="#000"/>
<rect x="1086" y="109" width="1" height="31" fill="#000"/>
<rect x="1084" y="113" width="5" height="25" fill="#000"/>
<rect x="1085" y="114" width="3" height="23" fill="#fff"/>
<rect x="1094" y="82" width="1" height="35" fill="#000"/>
<rect x="1092" y="86" width="5" height="28" fill="#000"/>
<rect x="1093" y="87" width="3" height="26" fill="#fff"/>
<rect x="1102" y="77" width="1" height="13" fill="#000"/>
<rect x="1100" y="85" width="5" height="3" fill="#000"/>
<rect x="1110" y="83" width="1" height="7" fill="#000"/>
<rect x="1108" y="83" width="5" height="4" fill="#000"/>
<rect x="1109" y="84" width="3" height="2" fill="#fff"/>
<rect x="1118" y="82" width="1" height="11" fill="#000"/>
<rect x="1116" y="83" width="5" height="4" fill="#000"/>
<rect x="1126" y="84" width="1" height="24" fill="#000"/>
<rect x="1124" y="86" width="5" height="14" fill="#000"/>
<rect x="1134" y="83" width="1" height="29" fill="#000"/>
<rect x="1132" y="99" width="5" height="12" fill="#000"/>
<rect x="1142" y="98" width="1" height="31" fill="#000"/>
<rect x="1140" y="100" width="5" height="11" fill="#000"/>
<rect x="1141" y="101" width="3" height="9" fill="#fff"/>
<rect x="1150" y="91" width="1" height="54" fill="#000"/>
<rect x="1148" y="100" width="5" height="28" fill="#000"/>
<rect x="1158" y="154" width="1" height="13" fill="#000"/>
<rect x="1156" y="154" width="5" height="8" fill="#000"/>
<rect x="1166" y="151" width="1" height="40" fill="#000"/>
<rect x="1164" y="161" width="5" height="13" fill="#000"/>
<rect x="1174" y="146" width="1" height="33" fill="#000"/>
<rect x="1172" y="157" width="5" height="17" fill="#000"/>
<rect x="1173" y="158" width="3" height="15" fill="#fff"/>
<rect x="1182" y="133" width="1" height="29" fill="#000"/>
<rect x="1180" y="153" width="5" height="5" fill="#000"/>
<rect x="1181" y="154" width="3" height="3" fill="#fff"/>
<rect x="1190" y="138" width="1" height="50" fill="#000"/>
<rect x="1188" y="143" width="5" height="11" fill="#000"/>
<rect x="1189" y="144" width="3" height="9" fill="#fff"/>
<rect x="1198" y="134" width="1" height="92" fill="#000"/>
<rect x="1196" y="143" width="5" height="68" fill="#000"/>
<rect x="1206" y="205" width="1" height="15" fill="#000"/>
<rect x="1204" y="208" width="5" height="12" fill="#000"/>
<rect x="1205" y="209" width="3" height="10" fill="#fff"/>
<rect x="1214" y="170" width="1" height="42" fill="#000"/>
<rect x="1212" y="198" width="5" height="10" fill="#000"/>
<rect x="1213" y="199" width="3" height="8" fill="#fff"/>
<rect x="1222" y="138" width="1" height="61" fill="#000"/>
<rect x="1220" y="151" width="5" height="48" fill="#000"/>
<rect x="1221" y="152" width="3" height="46" fill="#fff"/>
<rect x="1230" y="87" width="1" height="70" fill="#000"/>
<rect x="1228" y="92" width="5" height="60" fill="#000"/>
<rect x="1229" y="93" width="3" height="58" fill="#fff"/>
<rect x="1238" y="64" width="1" height="34" fill="#000"/>
<rect x="1236" y="77" width="5" height="17" fill="#000"/>
<rect x="1237" y="78" width="3" height="15" fill="#fff"/>
<rect x="1246" y="77" width="1" height="43" fill="#000"/>
<rect x="1244" y="77" width="5" height="38" fill="#000"/>
<rect x="1254" y="110" width="1" height="28" fill="#000"/>
<rect x="1252" y="118" width="5" height="13" fill="#000"/>
<rect x="1262" y="90" width="1" height="41" fill="#000"/>
<rect x="1260" y="92" width="5" height="38" fill="#000"/>
<rect x="1261" y="93" width="3" height="36" fill="#fff"/>
<rect x="1270" y="73" width="1" height="28" fill="#000"/>
<rect x="1268" y="89" width="5" height="4" fill="#000"/>
<rect x="1269" y="90" width="3" height="2" fill="#fff"/>
<rect x="1278" y="55" width="1" height="41" fill="#000"/>
<rect x="1276" y="70" width="5" height="20" fill="#000"/>
<rect x="1277" y="71" width="3" height="18" fill="#fff"/>
<rect x="1286" y="59" width="1" height="32" fill="#000"/>
<rect x="1284" y="70" width="5" height="3" fill="#000"/>
<rect x="1294" y="58" width="1" height="31" fill="#000"/>
<rect x="1292" y="72" width="5" height="1" fill="#000"/>
<rect x="1302" y="65" width="1" height="10" fill="#000"/>
<rect x="1300" y="67" width="5" height="8" fill="#000"/>
<rect x="1301" y="68" width="3" height="6" fill="#fff"/>
<rect x="1310" y="63" width="1" height="19" fill="#000"/>
<rect x="1308" y="67" width="5" height="11" fill="#000"/>
<rect x="1318" y="77" width="1" height="32" fill="#000"/>
<rect x="1316" y="77" width="5" height="9" fill="#000"/>
<rect x="1326" y="72" width="1" height="20" fill="#000"/>
<rect x="1324" y="74" width="5" height="12" fill="#000"/>
<rect x="1325" y="75" width="3" height="10" fill="#fff"/>
<rect x="1334" y="68" width="1" height="60" fill="#000"/>
<rect x="1332" y="74" width="5" height="39" fill="#000"/>
<rect x="1342" y="101" width="1" height="22" fill="#000"/>
<rect x="1340" y="111" width="5" height="11" fill="#000"/>
<rect x="1350" y="149" width="1" height="22" fill="#000"/>
<rect x="1348" y="150" width="5" height="13" fill="#000"/>
<rect x="1358" y="158" width="1" height="98" fill="#000"/>
<rect x="1356" y="161" width="5" height="71" fill="#000"/>
<rect x="1366" y="211" width="1" height="150" fill="#000"/>
<rect x="1364" y="232" width="5" height="109" fill="#000"/>
<rect x="0" y="436" width="1" height="10" fill="#000"/>
</g>
<g shape-rendering="crispEdges">
<rect x="1505.5" y="302.5" width="73" height="24" fill="#fff" stroke="#ff0000" stroke-width="1"/>
<rect x="1502.5" y="312.5" width="2" height="4" fill="#fff" stroke="#ff0000" stroke-width="1"/>
</g>
<text x="1507.2" y="323" font-size="22.6" fill="#ff0000" textLength="69.84" lengthAdjust="spacingAndGlyphs" text-rendering="geometricPrecision" stroke="#ff0000" stroke-width="0">27359.9</text>
<line x1="1332.4" y1="72.5" x2="1384.8" y2="398" stroke="#ff0000" stroke-width="3" shape-rendering="crispEdges"/>
<path d="M1386.2,406.8 L1380.4,395.2 L1384.8,397.4 L1390.8,393.6 Z" fill="#ff0000"/>
<rect x="1349" y="306" width="54" height="14" fill="#00ff00" shape-rendering="crispEdges"/>
</g>
<text x="1437" y="402.5" font-size="32" fill="#000" transform="translate(1,1)" textLength="161" lengthAdjust="spacingAndGlyphs" style="font-family:'Liberation Sans','Noto Sans CJK SC',sans-serif">多空转折点</text>
<text x="1437" y="402.5" font-size="32" fill="#00ff00" textLength="161" lengthAdjust="spacingAndGlyphs" style="font-family:'Liberation Sans','Noto Sans CJK SC',sans-serif">多空转折点</text>
<path d="M1367.5,29 L1377.5,29 L1372.5,34.2 Z" fill="#b4b4b4"/>
<g clip-path="url(#c2)">
<g shape-rendering="crispEdges" fill="#c0c0c0">
<rect x="6" y="666" width="1" height="62"/>
<rect x="14" y="666" width="1" height="66"/>
<rect x="22" y="666" width="1" height="59"/>
<rect x="30" y="666" width="1" height="72"/>
<rect x="38" y="666" width="1" height="79"/>
<rect x="46" y="666" width="1" height="77"/>
<rect x="54" y="666" width="1" height="70"/>
<rect x="62" y="666" width="1" height="65"/>
<rect x="70" y="666" width="1" height="63"/>
<rect x="78" y="666" width="1" height="53"/>
<rect x="86" y="666" width="1" height="45"/>
<rect x="94" y="666" width="1" height="52"/>
<rect x="102" y="666" width="1" height="62"/>
<rect x="110" y="666" width="1" height="59"/>
<rect x="118" y="666" width="1" height="56"/>
<rect x="126" y="666" width="1" height="50"/>
<rect x="134" y="666" width="1" height="37"/>
<rect x="142" y="666" width="1" height="26"/>
<rect x="150" y="666" width="1" height="18"/>
<rect x="158" y="666" width="1" height="16"/>
<rect x="166" y="666" width="1" height="15"/>
<rect x="174" y="666" width="1" height="8"/>
<rect x="182" y="661" width="1" height="6"/>
<rect x="190" y="649" width="1" height="18"/>
<rect x="198" y="640" width="1" height="27"/>
<rect x="206" y="632" width="1" height="35"/>
<rect x="214" y="625" width="1" height="42"/>
<rect x="222" y="612" width="1" height="55"/>
<rect x="230" y="604" width="1" height="63"/>
<rect x="238" y="598" width="1" height="69"/>
<rect x="246" y="598" width="1" height="69"/>
<rect x="254" y="598" width="1" height="69"/>
<rect x="262" y="598" width="1" height="69"/>
<rect x="270" y="599" width="1" height="68"/>
<rect x="278" y="601" width="1" height="66"/>
<rect x="286" y="608" width="1" height="59"/>
<rect x="294" y="612" width="1" height="55"/>
<rect x="302" y="614" width="1" height="53"/>
<rect x="310" y="620" width="1" height="47"/>
<rect x="318" y="624" width="1" height="43"/>
<rect x="326" y="629" width="1" height="38"/>
<rect x="334" y="635" width="1" height="32"/>
<rect x="342" y="639" width="1" height="28"/>
<rect x="350" y="641" width="1" height="26"/>
<rect x="358" y="650" width="1" height="17"/>
<rect x="366" y="666" width="1" height="2"/>
<rect x="374" y="666" width="1" height="15"/>
<rect x="382" y="666" width="1" height="17"/>
<rect x="390" y="666" width="1" height="20"/>
<rect x="398" y="666" width="1" height="22"/>
<rect x="406" y="666" width="1" height="30"/>
<rect x="414" y="666" width="1" height="36"/>
<rect x="422" y="666" width="1" height="31"/>
<rect x="430" y="666" width="1" height="21"/>
<rect x="438" y="666" width="1" height="12"/>
<rect x="446" y="666" width="1" height="6"/>
<rect x="454" y="665" width="1" height="2"/>
<rect x="462" y="660" width="1" height="7"/>
<rect x="470" y="655" width="1" height="12"/>
<rect x="478" y="655" width="1" height="12"/>
<rect x="486" y="655" width="1" height="12"/>
<rect x="494" y="655" width="1" height="12"/>
<rect x="502" y="657" width="1" height="10"/>
<rect x="510" y="656" width="1" height="11"/>
<rect x="518" y="656" width="1" height="11"/>
<rect x="526" y="655" width="1" height="12"/>
<rect x="534" y="653" width="1" height="14"/>
<rect x="542" y="648" width="1" height="19"/>
<rect x="550" y="645" width="1" height="22"/>
<rect x="558" y="641" width="1" height="26"/>
<rect x="566" y="642" width="1" height="25"/>
<rect x="574" y="636" width="1" height="31"/>
<rect x="582" y="632" width="1" height="35"/>
<rect x="590" y="625" width="1" height="42"/>
<rect x="598" y="621" width="1" height="46"/>
<rect x="606" y="619" width="1" height="48"/>
<rect x="614" y="612" width="1" height="55"/>
<rect x="622" y="608" width="1" height="59"/>
<rect x="630" y="606" width="1" height="61"/>
<rect x="638" y="605" width="1" height="62"/>
<rect x="646" y="604" width="1" height="63"/>
<rect x="654" y="602" width="1" height="65"/>
<rect x="662" y="601" width="1" height="66"/>
<rect x="670" y="597" width="1" height="70"/>
<rect x="678" y="595" width="1" height="72"/>
<rect x="686" y="593" width="1" height="74"/>
<rect x="694" y="596" width="1" height="71"/>
<rect x="702" y="601" width="1" height="66"/>
<rect x="710" y="605" width="1" height="62"/>
<rect x="718" y="607" width="1" height="60"/>
<rect x="726" y="608" width="1" height="59"/>
<rect x="734" y="606" width="1" height="61"/>
<rect x="742" y="604" width="1" height="63"/>
<rect x="750" y="605" width="1" height="62"/>
<rect x="758" y="604" width="1" height="63"/>
<rect x="766" y="606" width="1" height="61"/>
<rect x="774" y="607" width="1" height="60"/>
<rect x="782" y="616" width="1" height="51"/>
<rect x="790" y="629" width="1" height="38"/>
<rect x="798" y="637" width="1" height="30"/>
<rect x="806" y="643" width="1" height="24"/>
<rect x="814" y="640" width="1" height="27"/>
<rect x="822" y="639" width="1" height="28"/>
<rect x="830" y="640" width="1" height="27"/>
<rect x="838" y="641" width="1" height="26"/>
<rect x="846" y="642" width="1" height="25"/>
<rect x="854" y="636" width="1" height="31"/>
<rect x="862" y="634" width="1" height="33"/>
<rect x="870" y="632" width="1" height="35"/>
<rect x="878" y="631" width="1" height="36"/>
<rect x="886" y="628" width="1" height="39"/>
<rect x="894" y="627" width="1" height="40"/>
<rect x="902" y="623" width="1" height="44"/>
<rect x="910" y="620" width="1" height="47"/>
<rect x="918" y="617" width="1" height="50"/>
<rect x="926" y="614" width="1" height="53"/>
<rect x="934" y="613" width="1" height="54"/>
<rect x="942" y="613" width="1" height="54"/>
<rect x="950" y="612" width="1" height="55"/>
<rect x="958" y="611" width="1" height="56"/>
<rect x="966" y="611" width="1" height="56"/>
<rect x="974" y="615" width="1" height="52"/>
<rect x="982" y="617" width="1" height="50"/>
<rect x="990" y="619" width="1" height="48"/>
<rect x="998" y="614" width="1" height="53"/>
<rect x="1006" y="617" width="1" height="50"/>
<rect x="1014" y="622" width="1" height="45"/>
<rect x="1022" y="624" width="1" height="43"/>
<rect x="1030" y="634" width="1" height="33"/>
<rect x="1038" y="630" width="1" height="37"/>
<rect x="1046" y="625" width="1" height="42"/>
<rect x="1054" y="624" width="1" height="43"/>
<rect x="1062" y="624" width="1" height="43"/>
<rect x="1070" y="622" width="1" height="45"/>
<rect x="1078" y="622" width="1" height="45"/>
<rect x="1086" y="618" width="1" height="49"/>
<rect x="1094" y="611" width="1" height="56"/>
<rect x="1102" y="606" width="1" height="61"/>
<rect x="1110" y="602" width="1" height="65"/>
<rect x="1118" y="601" width="1" height="66"/>
<rect x="1126" y="603" width="1" height="64"/>
<rect x="1134" y="607" width="1" height="60"/>
<rect x="1142" y="609" width="1" height="58"/>
<rect x="1150" y="616" width="1" height="51"/>
<rect x="1158" y="628" width="1" height="39"/>
<rect x="1166" y="641" width="1" height="26"/>
<rect x="1174" y="648" width="1" height="19"/>
<rect x="1182" y="653" width="1" height="14"/>
<rect x="1190" y="655" width="1" height="12"/>
<rect x="1198" y="666" width="1" height="2"/>
<rect x="1206" y="666" width="1" height="13"/>
<rect x="1214" y="666" width="1" height="18"/>
<rect x="1222" y="666" width="1" height="16"/>
<rect x="1230" y="666" width="1" height="2"/>
<rect x="1238" y="655" width="1" height="12"/>
<rect x="1246" y="652" width="1" height="15"/>
<rect x="1254" y="652" width="1" height="15"/>
<rect x="1262" y="645" width="1" height="22"/>
<rect x="1270" y="640" width="1" height="27"/>
<rect x="1278" y="632" width="1" height="35"/>
<rect x="1286" y="627" width="1" height="40"/>
<rect x="1294" y="624" width="1" height="43"/>
<rect x="1302" y="621" width="1" height="46"/>
<rect x="1310" y="621" width="1" height="46"/>
<rect x="1318" y="622" width="1" height="45"/>
<rect x="1326" y="623" width="1" height="44"/>
<rect x="1334" y="630" width="1" height="37"/>
<rect x="1342" y="638" width="1" height="29"/>
<rect x="1350" y="652" width="1" height="15"/>
<rect x="1358" y="666" width="1" height="8"/>
<rect x="1366" y="666" width="1" height="45"/>
</g>
<path fill="none" stroke="#ff0000" stroke-width="1" shape-rendering="crispEdges" d="M699 598.5h2M704 598.5h3M710 598.5h3M692 599.5h3M716 599.5h3M722 599.5h3M728 599.5h3M686 600.5h3M734 600.5h3M285 601.5h2M290 601.5h3M296 601.5h3M680 601.5h3M740 601.5h3M302 602.5h3M747 602.5h2M752 602.5h3M278 603.5h3M674 603.5h2M758 603.5h3M309 604.5h2M764 604.5h3M272 605.5h3M669 605.5h2M771 605.5h2M776 605.5h3M315 606.5h2M782 606.5h2M1148 607.5h3M266 608.5h2M320 608.5h2M662 608.5h2M1142 608.5h3M1155 608.5h2M657 609.5h2M789 609.5h2M1136 609.5h3M1160 609.5h3M1130 610.5h3M326 611.5h2M795 611.5h2M1125 611.5h2M650 612.5h2M1167 612.5h2M800 613.5h2M974 613.5h3M980 613.5h3M986 613.5h3M992 613.5h3M998 613.5h3M332 614.5h2M645 614.5h2M968 614.5h3M1004 614.5h3M1118 614.5h2M255 615.5h2M962 615.5h3M1011 615.5h2M1016 615.5h3M1113 615.5h2M1172 615.5h2M806 616.5h2M957 616.5h2M1022 616.5h3M339 617.5h2M638 617.5h2M1107 617.5h2M950 618.5h3M1029 618.5h2M632 619.5h3M812 619.5h2M945 619.5h2M1034 619.5h3M1101 619.5h2M249 620.5h2M345 620.5h2M1179 620.5h2M938 621.5h3M1041 621.5h2M819 622.5h2M933 622.5h2M1046 622.5h3M1052 622.5h3M1094 622.5h2M1059 623.5h2M1064 623.5h3M1089 623.5h2M351 624.5h2M926 624.5h3M1070 624.5h3M1076 624.5h3M1082 624.5h3M621 625.5h2M825 625.5h2M921 625.5h2M1339 625.5h2M1344 625.5h3M1333 626.5h2M356 627.5h2M915 627.5h2M614 628.5h2M830 628.5h2M1326 628.5h3M909 629.5h2M1321 629.5h2M608 631.5h2M836 631.5h2M902 632.5h2M1314 632.5h2M897 633.5h2M843 634.5h2M891 634.5h2M884 635.5h3M1308 635.5h2M848 636.5h3M878 636.5h3M597 637.5h2M873 637.5h2M854 638.5h3M860 638.5h3M866 638.5h3M1302 638.5h2M590 640.5h2M1297 641.5h2M585 643.5h2M578 646.5h3M573 647.5h2M560 650.5h3M566 650.5h2M555 651.5h2M548 653.5h3M531 654.5h2M536 654.5h3M542 654.5h3M524 655.5h3M518 656.5h3M1219 656.5h2M513 657.5h2M507 659.5h2M501 661.5h2M1267 662.5h2M494 664.5h2M1230 664.5h3M1261 664.5h2M1236 665.5h3M1243 666.5h2M1248 666.5h3M1254 666.5h3M489 667.5h2M476 675.5h2M471 678.5h2M417 679.5h2M464 682.5h2M423 684.5h2M459 684.5h2M453 686.5h2M428 687.5h2M446 688.5h3M435 689.5h2M440 689.5h3M169 701.5h2M162 706.5h2M157 708.5h2M150 711.5h2M144 713.5h3M138 716.5h2M133 718.5h2M126 721.5h2M19 722.5h2M120 723.5h3M115 725.5h2M25 726.5h2M108 727.5h3M102 728.5h3M30 729.5h2M97 729.5h2M85 730.5h2M90 730.5h3M36 732.5h2M78 732.5h3M73 733.5h2M42 734.5h3M60 734.5h3M66 734.5h3M48 735.5h3M54 735.5h3M2 704.5h1M3 705.5h1M4 706.5h1M7 710.5h1M8 711.5h1M9 712.5h1M12 716.5h1M13 717.5h1M14 718.5h1M18 721.5h1M24 725.5h1M32 730.5h1M38 733.5h1M72 734.5h1M84 731.5h1M96 730.5h1M114 726.5h1M128 720.5h1M132 719.5h1M140 715.5h1M152 710.5h1M156 709.5h1M164 705.5h1M168 702.5h1M174 697.5h1M175 696.5h1M176 695.5h1M180 692.5h1M181 691.5h1M182 690.5h1M186 686.5h1M187 685.5h1M188 684.5h1M192 680.5h1M193 679.5h1M194 678.5h1M197 674.5h1M198 673.5h1M199 672.5h1M203 669.5h1M204 668.5h1M205 667.5h1M209 663.5h1M210 662.5h1M211 661.5h1M215 657.5h1M216 656.5h1M217 655.5h1M221 651.5h1M222 650.5h1M223 649.5h1M226 645.5h1M227 644.5h1M228 643.5h1M232.5 638v2M233 637.5h1M236 633.5h1M237 632.5h1M238 631.5h1M242 627.5h1M243 626.5h1M244 625.5h1M248 621.5h1M254 616.5h1M260 612.5h1M261 611.5h1M262 610.5h1M268 607.5h1M284 602.5h1M308 603.5h1M314 605.5h1M322 609.5h1M328 612.5h1M334 615.5h1M338 616.5h1M344 619.5h1M350 623.5h1M358 628.5h1M362 631.5h1M363 632.5h1M364 633.5h1M368 636.5h1M369 637.5h1M370 638.5h1M374 641.5h1M375 642.5h1M376 643.5h1M380 647.5h1M381 648.5h1M382 649.5h1M386 652.5h1M387 653.5h1M388 654.5h1M392 657.5h1M393 658.5h1M394 659.5h1M398 662.5h1M399 663.5h1M400 664.5h1M404 667.5h1M405 668.5h1M406 669.5h1M410 672.5h1M411 673.5h1M412 674.5h1M416 678.5h1M422 683.5h1M430 688.5h1M434 688.5h1M452 687.5h1M458 685.5h1M466 681.5h1M470 679.5h1M478 674.5h1M482 672.5h1M483 671.5h1M484 670.5h1M488 668.5h1M496 663.5h1M500 662.5h1M506 660.5h1M512 658.5h1M530 655.5h1M554 652.5h1M568 649.5h1M572 648.5h1M584 644.5h1M592 639.5h1M596 638.5h1M602 635.5h1M603 634.5h1M604 633.5h1M610 630.5h1M616 627.5h1M620 626.5h1M626 623.5h1M627 622.5h1M628 621.5h1M640 616.5h1M644 615.5h1M652 611.5h1M656 610.5h1M664 607.5h1M668 606.5h1M676 602.5h1M698 599.5h1M746 601.5h1M770 604.5h1M784 607.5h1M788 608.5h1M794 610.5h1M802 614.5h1M808 617.5h1M814 620.5h1M818 621.5h1M824 624.5h1M832 629.5h1M838 632.5h1M842 633.5h1M872 638.5h1M890 635.5h1M896 634.5h1M904 631.5h1M908 630.5h1M914 628.5h1M920 626.5h1M932 623.5h1M944 620.5h1M956 617.5h1M1010 614.5h1M1028 617.5h1M1040 620.5h1M1058 622.5h1M1088 624.5h1M1096 621.5h1M1100 620.5h1M1106 618.5h1M1112 616.5h1M1120 613.5h1M1124 612.5h1M1154 607.5h1M1166 611.5h1M1174 616.5h1M1178 619.5h1M1184 623.5h1M1185 624.5h1M1186 625.5h1M1190 628.5h1M1191 629.5h1M1192 630.5h1M1196 633.5h1M1197 634.5h1M1198 635.5h1M1202 638.5h1M1203 639.5h1M1204 640.5h1M1208.5 644v2M1209 646.5h1M1212 650.5h1M1213 651.5h1M1214 652.5h1M1218 655.5h1M1224 659.5h1M1225 660.5h1M1226 661.5h1M1242 665.5h1M1260 665.5h1M1266 663.5h1M1272 660.5h1M1273 659.5h1M1274 658.5h1M1278 655.5h1M1279 654.5h1M1280 653.5h1M1284 650.5h1M1285 649.5h1M1286 648.5h1M1290 646.5h1M1291 645.5h1M1292 644.5h1M1296 642.5h1M1304 637.5h1M1310 634.5h1M1316 631.5h1M1320 630.5h1M1332 627.5h1M1338 626.5h1M1350 626.5h1M1351 627.5h1M1352 628.5h1M1356 632.5h1M1357 633.5h1M1358 634.5h1M1362 638.5h1M1363 639.5h1M1364 640.5h1"/>
</g>
<g clip-path="url(#c3)">
<g shape-rendering="crispEdges">
<line x1="0" y1="791.5" x2="1617" y2="791.5" stroke="#c0c0c0" stroke-width="1" stroke-dasharray="3 3"/>
<line x1="0" y1="842.5" x2="1617" y2="842.5" stroke="#c0c0c0" stroke-width="1" stroke-dasharray="3 3"/>
<line x1="0" y1="903.5" x2="1617" y2="903.5" stroke="#c0c0c0" stroke-width="1" stroke-dasharray="3 3"/>
</g>
<path fill="none" stroke="#1e90ff" stroke-width="1" shape-rendering="crispEdges" d="M670 799.5h3M685 799.5h2M673 800.5h4M681 800.5h4M677 801.5h4M665 803.5h2M741 805.5h2M965 805.5h2M997 805.5h2M659 806.5h4M739 806.5h2M743 806.5h2M925 806.5h2M950 806.5h5M961 806.5h4M654 807.5h5M736 807.5h3M745 807.5h2M921 807.5h4M927 807.5h2M948 807.5h2M955 807.5h6M614 808.5h2M652 808.5h2M734 808.5h2M757 808.5h2M915 808.5h6M616 809.5h2M650 809.5h2M732 809.5h2M748 809.5h2M753 809.5h4M759 809.5h2M909 809.5h6M945 809.5h2M618 810.5h2M648 810.5h2M750 810.5h3M761 810.5h2M907 810.5h2M931 810.5h2M943 810.5h2M620 811.5h2M635 811.5h13M729 811.5h2M773 811.5h2M904 811.5h3M939 811.5h4M622 812.5h13M727 812.5h2M764 812.5h2M769 812.5h4M902 812.5h2M934 812.5h5M222 813.5h2M766 813.5h3M1094 813.5h5M1107 813.5h8M224 814.5h2M724 814.5h2M899 814.5h2M1099 814.5h8M1115 814.5h4M226 815.5h2M590 815.5h5M722 815.5h2M228 816.5h2M588 816.5h2M595 816.5h8M720 816.5h2M230 817.5h9M603 817.5h4M718 817.5h2M895 817.5h2M1089 817.5h2M585 818.5h2M891 818.5h4M989 818.5h2M583 819.5h2M855 819.5h2M885 819.5h6M985 819.5h4M241 820.5h2M581 820.5h2M883 820.5h2M982 820.5h3M577 821.5h4M713 821.5h2M880 821.5h3M980 821.5h2M267 822.5h6M574 822.5h3M859 822.5h2M877 822.5h3M1044 822.5h2M1236 822.5h2M211 823.5h4M251 823.5h16M273 823.5h4M702 823.5h5M873 823.5h4M977 823.5h2M1127 823.5h2M1234 823.5h2M1301 823.5h2M203 824.5h8M246 824.5h5M277 824.5h2M556 824.5h2M707 824.5h4M862 824.5h11M974 824.5h3M1041 824.5h2M1070 824.5h2M1129 824.5h2M1141 824.5h2M1232 824.5h2M1278 824.5h5M1297 824.5h4M1303 824.5h2M187 825.5h16M1039 825.5h2M1068 825.5h2M1072 825.5h2M1139 825.5h2M1230 825.5h2M1276 825.5h2M1283 825.5h14M1305 825.5h2M182 826.5h5M553 826.5h2M1066 826.5h2M1074 826.5h2M1132 826.5h2M1136 826.5h3M1274 826.5h2M542 827.5h5M551 827.5h2M814 827.5h9M1064 827.5h2M1076 827.5h2M1134 827.5h2M1272 827.5h2M1308 827.5h2M301 828.5h2M540 828.5h2M547 828.5h4M1059 828.5h5M1267 828.5h5M1310 828.5h2M1325 828.5h2M297 829.5h4M1021 829.5h2M1054 829.5h5M1262 829.5h5M1312 829.5h3M1323 829.5h2M294 830.5h3M454 830.5h2M469 830.5h2M537 830.5h2M825 830.5h2M1009 830.5h2M1019 830.5h2M1315 830.5h2M1320 830.5h3M292 831.5h2M452 831.5h2M456 831.5h3M467 831.5h2M535 831.5h2M1317 831.5h3M290 832.5h2M438 832.5h2M459 832.5h2M464 832.5h3M533 832.5h2M845 832.5h2M288 833.5h2M436 833.5h2M440 833.5h3M449 833.5h2M461 833.5h3M529 833.5h4M843 833.5h2M1015 833.5h2M286 834.5h2M434 834.5h2M443 834.5h2M447 834.5h2M526 834.5h3M830 834.5h5M840 834.5h3M316 835.5h2M319 835.5h2M432 835.5h2M445 835.5h2M835 835.5h5M1247 835.5h2M139 836.5h5M314 836.5h2M321 836.5h2M348 836.5h3M430 836.5h2M1249 836.5h2M134 837.5h5M144 837.5h3M312 837.5h2M147 838.5h2M310 838.5h2M324 838.5h2M345 838.5h2M509 838.5h3M521 838.5h2M1252 838.5h2M149 839.5h6M326 839.5h2M343 839.5h2M483 839.5h14M507 839.5h2M512 839.5h3M155 840.5h4M328 840.5h2M341 840.5h2M478 840.5h5M497 840.5h4M504 840.5h3M515 840.5h2M159 841.5h2M330 841.5h2M339 841.5h2M501 841.5h3M517 841.5h2M78 842.5h3M161 842.5h2M332 842.5h2M336 842.5h3M81 843.5h4M334 843.5h2M1188 843.5h3M1334 843.5h2M85 844.5h2M164 844.5h2M1336 844.5h3M804 845.5h2M1185 845.5h2M1339 845.5h2M802 846.5h2M1183 846.5h2M1341 846.5h2M124 847.5h2M800 847.5h2M1179 847.5h4M122 848.5h2M798 848.5h2M1174 848.5h5M21 849.5h2M59 849.5h5M120 849.5h2M382 849.5h2M53 850.5h6M64 850.5h2M110 850.5h10M384 850.5h3M51 851.5h2M66 851.5h2M387 851.5h2M48 852.5h3M68 852.5h2M389 852.5h10M1159 852.5h2M1 853.5h4M46 853.5h2M1161 853.5h2M5 854.5h2M7 855.5h2M1164 855.5h2M95 857.5h2M11 858.5h2M99 860.5h2M1212 860.5h2M37 862.5h2M406 862.5h9M1209 862.5h2M35 863.5h2M1207 863.5h2M32 864.5h3M1203 864.5h4M30 865.5h2M1198 865.5h5M372 867.5h2M369 869.5h2M366 870.5h3M0 852.5h1M9 856.5h1M10 857.5h1M13 859.5h1M14 860.5h1M15.5 858v2M16 857.5h1M17.5 855v2M18 854.5h1M19.5 852v2M20 851.5h1M21 850.5h1M22 848.5h1M23.5 850v2M24.5 852v2M25.5 854v2M26.5 856v2M27.5 858v2M28.5 860v2M29.5 862v2M30 864.5h1M39 861.5h1M40 860.5h1M41 859.5h1M42.5 857v2M43 856.5h1M44 855.5h1M45 854.5h1M70 853.5h1M71.5 851v2M72 850.5h1M73 849.5h1M74.5 847v2M75 846.5h1M76 845.5h1M77.5 843v2M87.5 845v2M88 847.5h1M89.5 848v2M90 850.5h1M91.5 851v2M92 853.5h1M93.5 854v2M94 856.5h1M97 858.5h1M98 859.5h1M101 861.5h1M102 862.5h1M103.5 860v2M104 859.5h1M105.5 857v2M106 856.5h1M107.5 854v2M108 853.5h1M109.5 851v2M126 846.5h1M127 845.5h1M128 844.5h1M129 843.5h1M130.5 841v2M131 840.5h1M132 839.5h1M133 838.5h1M163 843.5h1M166 845.5h1M167 844.5h1M168.5 842v2M169 841.5h1M170 840.5h1M171 839.5h1M172.5 837v2M173 836.5h1M174 835.5h1M175 834.5h1M176 833.5h1M177 832.5h1M178.5 830v2M179 829.5h1M180 828.5h1M181 827.5h1M215 822.5h1M216.5 820v2M217 819.5h1M218 818.5h1M219 817.5h1M220.5 815v2M221 814.5h1M239 818.5h1M240 819.5h1M243 821.5h1M244 822.5h1M245 823.5h1M279 825.5h1M280.5 826v2M281 828.5h1M282 829.5h1M283 830.5h1M284.5 831v2M285 833.5h1M303 829.5h1M304.5 830v2M305 832.5h1M306 833.5h1M307 834.5h1M308.5 835v2M309 837.5h1M318 834.5h1M323 837.5h1M347 837.5h1M350 835.5h1M351.5 837v2M352.5 839v2M353.5 841v2M354.5 843v3M355.5 846v2M356.5 848v2M357.5 850v2M358.5 852v3M359.5 855v2M360.5 857v2M361.5 859v2M362.5 861v3M363.5 864v2M364.5 866v2M365.5 868v2M366 871.5h1M371 868.5h1M374.5 865v2M375.5 863v2M376.5 861v2M377.5 859v2M378.5 857v2M379.5 855v2M380.5 853v2M381.5 851v2M382 850.5h1M399 853.5h1M400.5 854v2M401 856.5h1M402 857.5h1M403 858.5h1M404.5 859v2M405 861.5h1M414 861.5h1M415.5 859v2M416.5 857v2M417.5 855v2M418.5 852v3M419.5 850v2M420.5 848v2M421.5 846v2M422.5 844v2M423 843.5h1M424 842.5h1M425 841.5h1M426 840.5h1M427 839.5h1M428 838.5h1M429 837.5h1M451 832.5h1M471 831.5h1M472.5 832v2M473 834.5h1M474 835.5h1M475 836.5h1M476.5 837v2M477 839.5h1M519 840.5h1M520 839.5h1M523 837.5h1M524 836.5h1M525 835.5h1M539 829.5h1M555 825.5h1M558 823.5h1M559.5 824v2M560 826.5h1M561 827.5h1M562.5 828v2M563 830.5h1M564 831.5h1M565.5 832v2M566 834.5h1M567.5 832v2M568 831.5h1M569.5 829v2M570 828.5h1M571.5 826v2M572 825.5h1M573.5 823v2M587 817.5h1M607 816.5h1M608 815.5h1M609 814.5h1M610.5 812v2M611 811.5h1M612 810.5h1M613 809.5h1M663 805.5h1M664 804.5h1M667 802.5h1M668 801.5h1M669 800.5h1M687.5 800v2M688.5 802v2M689.5 804v2M690 806.5h1M691.5 807v2M692.5 809v2M693.5 811v2M694 813.5h1M695 814.5h1M696.5 815v2M697 817.5h1M698 818.5h1M699 819.5h1M700.5 820v2M701 822.5h1M711 823.5h1M712 822.5h1M715 820.5h1M716 819.5h1M717 818.5h1M726 813.5h1M731 810.5h1M747 808.5h1M763 811.5h1M774 812.5h1M775.5 813v4M776.5 817v4M777.5 821v3M778.5 824v4M779.5 828v3M780.5 831v4M781.5 835v4M782.5 839v3M783.5 842v2M784.5 844v2M785.5 846v2M786.5 848v2M787.5 850v2M788.5 852v2M789.5 854v2M790 856.5h1M791 855.5h1M792 854.5h1M793 853.5h1M794 852.5h1M795 851.5h1M796 850.5h1M797 849.5h1M806.5 843v2M807.5 841v2M808.5 839v2M809.5 837v2M810.5 835v2M811.5 833v2M812.5 831v2M813.5 829v2M814 828.5h1M823 828.5h1M824 829.5h1M827 831.5h1M828 832.5h1M829 833.5h1M847.5 830v2M848.5 828v2M849.5 826v2M850 825.5h1M851.5 823v2M852.5 821v2M853.5 819v2M854 818.5h1M857 820.5h1M858 821.5h1M861 823.5h1M897 816.5h1M898 815.5h1M901 813.5h1M929 808.5h1M930 809.5h1M933 811.5h1M947 808.5h1M966 806.5h1M967.5 807v2M968.5 809v3M969.5 812v2M970.5 814v3M971.5 817v2M972.5 819v3M973.5 822v2M974 825.5h1M979 822.5h1M991.5 816v2M992.5 814v2M993.5 812v2M994 811.5h1M995.5 809v2M996.5 807v2M997 806.5h1M998 804.5h1M999.5 806v3M1000.5 809v3M1001.5 812v3M1002.5 815v2M1003.5 817v3M1004.5 820v3M1005.5 823v3M1006.5 826v2M1007 828.5h1M1008 829.5h1M1011 831.5h1M1012 832.5h1M1013 833.5h1M1014 834.5h1M1017 832.5h1M1018 831.5h1M1022 828.5h1M1023.5 830v2M1024.5 832v3M1025.5 835v2M1026.5 837v3M1027.5 840v2M1028.5 842v3M1029.5 845v2M1030.5 847v2M1031.5 844v3M1032.5 842v2M1033.5 839v3M1034.5 836v3M1035.5 833v3M1036.5 831v2M1037.5 828v3M1038.5 826v2M1043 823.5h1M1046 821.5h1M1047 822.5h1M1048 823.5h1M1049 824.5h1M1050 825.5h1M1051 826.5h1M1052 827.5h1M1053 828.5h1M1078 828.5h1M1079 827.5h1M1080 826.5h1M1081 825.5h1M1082 824.5h1M1083 823.5h1M1084 822.5h1M1085 821.5h1M1086 820.5h1M1087 819.5h1M1088 818.5h1M1091 816.5h1M1092 815.5h1M1093 814.5h1M1119 815.5h1M1120 816.5h1M1121 817.5h1M1122 818.5h1M1123 819.5h1M1124 820.5h1M1125 821.5h1M1126 822.5h1M1131 825.5h1M1143.5 825v2M1144.5 827v2M1145.5 829v2M1146 831.5h1M1147.5 832v2M1148.5 834v2M1149.5 836v2M1150 838.5h1M1151.5 839v2M1152.5 841v2M1153 843.5h1M1154.5 844v2M1155 846.5h1M1156.5 847v2M1157.5 849v2M1158 851.5h1M1163 854.5h1M1166 856.5h1M1167 855.5h1M1168 854.5h1M1169 853.5h1M1170 852.5h1M1171 851.5h1M1172 850.5h1M1173 849.5h1M1187 844.5h1M1190 842.5h1M1191.5 844v3M1192.5 847v3M1193.5 850v3M1194.5 853v2M1195.5 855v3M1196.5 858v3M1197.5 861v3M1198 864.5h1M1211 861.5h1M1214.5 858v2M1215.5 856v2M1216.5 854v2M1217.5 852v2M1218.5 849v3M1219.5 847v2M1220.5 845v2M1221.5 843v2M1222.5 840v3M1223.5 838v2M1224.5 836v2M1225.5 834v2M1226.5 832v2M1227.5 830v2M1228.5 828v2M1229.5 826v2M1238 821.5h1M1239.5 822v2M1240.5 824v2M1241 826.5h1M1242.5 827v2M1243 829.5h1M1244.5 830v2M1245.5 832v2M1246 834.5h1M1251 837.5h1M1254 839.5h1M1255 838.5h1M1256.5 836v2M1257 835.5h1M1258 834.5h1M1259 833.5h1M1260.5 831v2M1261 830.5h1M1307 826.5h1M1327.5 829v2M1328.5 831v2M1329.5 833v2M1330.5 835v2M1331.5 837v2M1332.5 839v2M1333.5 841v2M1343.5 847v2M1344 849.5h1M1345.5 850v2M1346 852.5h1M1347.5 853v2M1348 855.5h1M1349.5 856v2M1350 858.5h1M1351.5 859v2M1352.5 861v2M1353.5 863v2M1354 865.5h1M1355.5 866v2M1356.5 868v2M1357.5 870v2M1358.5 872v2M1359.5 874v2M1360.5 876v2M1361.5 878v2M1362.5 880v2M1363.5 882v2M1364.5 884v2M1365.5 886v2M1366 888.5h1"/>
</g>
<g shape-rendering="crispEdges" fill="#000">
<rect x="1618" y="50" width="2" height="1"/>
<rect x="1618" y="83" width="2" height="1"/>
<rect x="1618" y="116" width="2" height="1"/>
<rect x="1618" y="149" width="2" height="1"/>
<rect x="1618" y="182" width="2" height="1"/>
<rect x="1618" y="215" width="2" height="1"/>
<rect x="1618" y="248" width="2" height="1"/>
<rect x="1618" y="281" width="2" height="1"/>
<rect x="1618" y="314" width="2" height="1"/>
<rect x="1618" y="347" width="2" height="1"/>
<rect x="1618" y="380" width="2" height="1"/>
<rect x="1618" y="413" width="2" height="1"/>
<rect x="1618" y="446" width="2" height="1"/>
<rect x="1618" y="479" width="2" height="1"/>
<rect x="1618" y="512" width="2" height="1"/>
<rect x="1618" y="545" width="2" height="1"/>
<rect x="1618" y="578" width="2" height="1"/>
<rect x="1618" y="585" width="1" height="1"/>
<rect x="1618" y="666" width="1" height="1"/>
<rect x="1618" y="751" width="1" height="1"/>
<rect x="1618" y="757" width="1" height="1"/>
<rect x="1618" y="791" width="1" height="1"/>
<rect x="1618" y="842" width="1" height="1"/>
<rect x="1618" y="903" width="1" height="1"/>
<rect x="1618" y="927" width="1" height="1"/>
<rect x="62" y="930" width="1" height="3"/>
<rect x="126" y="930" width="1" height="3"/>
<rect x="190" y="930" width="1" height="3"/>
<rect x="254" y="930" width="1" height="3"/>
<rect x="318" y="930" width="1" height="3"/>
<rect x="382" y="930" width="1" height="3"/>
<rect x="446" y="930" width="1" height="3"/>
<rect x="510" y="930" width="1" height="3"/>
<rect x="574" y="930" width="1" height="3"/>
<rect x="638" y="930" width="1" height="3"/>
<rect x="702" y="930" width="1" height="3"/>
<rect x="766" y="930" width="1" height="3"/>
<rect x="830" y="930" width="1" height="3"/>
<rect x="894" y="930" width="1" height="3"/>
<rect x="958" y="930" width="1" height="3"/>
<rect x="1022" y="930" width="1" height="3"/>
<rect x="1086" y="930" width="1" height="3"/>
<rect x="1150" y="930" width="1" height="3"/>
<rect x="1214" y="930" width="1" height="3"/>
<rect x="1278" y="930" width="1" height="3"/>
<rect x="1342" y="930" width="1" height="3"/>
<rect x="1406" y="930" width="1" height="3"/>
</g>
<text x="1623" y="54" font-size="10" fill="#000" textLength="32.96" lengthAdjust="spacingAndGlyphs" text-rendering="geometricPrecision" stroke="#000" stroke-width="0.25">29580.0</text>
<text x="1623" y="87" font-size="10" fill="#000" textLength="32.96" lengthAdjust="spacingAndGlyphs" text-rendering="geometricPrecision" stroke="#000" stroke-width="0.25">29308.0</text>
<text x="1623" y="120" font-size="10" fill="#000" textLength="32.96" lengthAdjust="spacingAndGlyphs" text-rendering="geometricPrecision" stroke="#000" stroke-width="0.25">29028.0</text>
<text x="1623" y="153" font-size="10" fill="#000" textLength="32.96" lengthAdjust="spacingAndGlyphs" text-rendering="geometricPrecision" stroke="#000" stroke-width="0.25">28748.0</text>
<text x="1623" y="186" font-size="10" fill="#000" textLength="32.96" lengthAdjust="spacingAndGlyphs" text-rendering="geometricPrecision" stroke="#000" stroke-width="0.25">28468.0</text>
<text x="1623" y="219" font-size="10" fill="#000" textLength="32.96" lengthAdjust="spacingAndGlyphs" text-rendering="geometricPrecision" stroke="#000" stroke-width="0.25">28196.0</text>
<text x="1623" y="252" font-size="10" fill="#000" textLength="32.96" lengthAdjust="spacingAndGlyphs" text-rendering="geometricPrecision" stroke="#000" stroke-width="0.25">27916.0</text>
<text x="1623" y="285" font-size="10" fill="#000" textLength="32.96" lengthAdjust="spacingAndGlyphs" text-rendering="geometricPrecision" stroke="#000" stroke-width="0.25">27636.0</text>
<text x="1623" y="351" font-size="10" fill="#000" textLength="32.96" lengthAdjust="spacingAndGlyphs" text-rendering="geometricPrecision" stroke="#000" stroke-width="0.25">27084.0</text>
<text x="1623" y="384" font-size="10" fill="#000" textLength="32.96" lengthAdjust="spacingAndGlyphs" text-rendering="geometricPrecision" stroke="#000" stroke-width="0.25">26804.0</text>
<text x="1623" y="417" font-size="10" fill="#000" textLength="32.96" lengthAdjust="spacingAndGlyphs" text-rendering="geometricPrecision" stroke="#000" stroke-width="0.25">26524.0</text>
<text x="1623" y="450" font-size="10" fill="#000" textLength="32.96" lengthAdjust="spacingAndGlyphs" text-rendering="geometricPrecision" stroke="#000" stroke-width="0.25">26252.0</text>
<text x="1623" y="483" font-size="10" fill="#000" textLength="32.96" lengthAdjust="spacingAndGlyphs" text-rendering="geometricPrecision" stroke="#000" stroke-width="0.25">25972.0</text>
<text x="1623" y="516" font-size="10" fill="#000" textLength="32.96" lengthAdjust="spacingAndGlyphs" text-rendering="geometricPrecision" stroke="#000" stroke-width="0.25">25692.0</text>
<text x="1623" y="549" font-size="10" fill="#000" textLength="32.96" lengthAdjust="spacingAndGlyphs" text-rendering="geometricPrecision" stroke="#000" stroke-width="0.25">25412.0</text>
<text x="1623" y="582" font-size="10" fill="#000" textLength="32.96" lengthAdjust="spacingAndGlyphs" text-rendering="geometricPrecision" stroke="#000" stroke-width="0.25">25140.0</text>
<text x="1621" y="595.5" font-size="10" fill="#000" textLength="27.89" lengthAdjust="spacingAndGlyphs" text-rendering="geometricPrecision" stroke="#000" stroke-width="0.25">304.28</text>
<text x="1621.5" y="670.5" font-size="10" fill="#000" textLength="17.75" lengthAdjust="spacingAndGlyphs" text-rendering="geometricPrecision" stroke="#000" stroke-width="0.25">0.00</text>
<text x="1621" y="750.5" font-size="10" fill="#000" textLength="30.93" lengthAdjust="spacingAndGlyphs" text-rendering="geometricPrecision" stroke="#000" stroke-width="0.25">-319.38</text>
<text x="1621" y="766.5" font-size="10" fill="#000" textLength="15.21" lengthAdjust="spacingAndGlyphs" text-rendering="geometricPrecision" stroke="#000" stroke-width="0.25">100</text>
<text x="1621" y="795.5" font-size="10" fill="#000" textLength="10.14" lengthAdjust="spacingAndGlyphs" text-rendering="geometricPrecision" stroke="#000" stroke-width="0.25">80</text>
<text x="1621" y="846.5" font-size="10" fill="#000" textLength="10.14" lengthAdjust="spacingAndGlyphs" text-rendering="geometricPrecision" stroke="#000" stroke-width="0.25">50</text>
<text x="1621" y="907.5" font-size="10" fill="#000" textLength="10.14" lengthAdjust="spacingAndGlyphs" text-rendering="geometricPrecision" stroke="#000" stroke-width="0.25">15</text>
<text x="1621" y="926.5" font-size="10" fill="#000" textLength="5.07" lengthAdjust="spacingAndGlyphs" text-rendering="geometricPrecision" stroke="#000" stroke-width="0.25">0</text>
<rect x="1619" y="254" width="41" height="11" fill="#ff0000" shape-rendering="crispEdges"/>
<text x="1623" y="263" font-size="10" fill="#fff" textLength="32.96" lengthAdjust="spacingAndGlyphs" text-rendering="geometricPrecision" stroke="#fff" stroke-width="0.25">27813.7</text>
<rect x="1619" y="282" width="41" height="11" fill="#ff0000" shape-rendering="crispEdges"/>
<text x="1623" y="291" font-size="10" fill="#fff" textLength="32.96" lengthAdjust="spacingAndGlyphs" text-rendering="geometricPrecision" stroke="#fff" stroke-width="0.25">27578.4</text>
<rect x="1619" y="308" width="41" height="11" fill="#32cd32" shape-rendering="crispEdges"/>
<text x="1623" y="317" font-size="10" fill="#fff" textLength="32.96" lengthAdjust="spacingAndGlyphs" text-rendering="geometricPrecision" stroke="#fff" stroke-width="0.25">27359.9</text>
<rect x="1619" y="335" width="41" height="11" fill="#000" shape-rendering="crispEdges"/>
<text x="1623" y="344" font-size="10" fill="#fff" textLength="32.96" lengthAdjust="spacingAndGlyphs" text-rendering="geometricPrecision" stroke="#fff" stroke-width="0.25">27145.0</text>
<rect x="1619" y="367" width="41" height="11" fill="#0000ff" shape-rendering="crispEdges"/>
<text x="1623" y="376" font-size="10" fill="#fff" textLength="32.96" lengthAdjust="spacingAndGlyphs" text-rendering="geometricPrecision" stroke="#fff" stroke-width="0.25">26864.0</text>
<rect x="1619" y="399" width="41" height="11" fill="#0000ff" shape-rendering="crispEdges"/>
<text x="1623" y="408" font-size="10" fill="#fff" textLength="32.96" lengthAdjust="spacingAndGlyphs" text-rendering="geometricPrecision" stroke="#fff" stroke-width="0.25">26595.1</text>
<text x="-2" y="942" font-size="10" fill="#000" textLength="46.91" lengthAdjust="spacingAndGlyphs" text-rendering="geometricPrecision" stroke="#000" stroke-width="0.25">9 Aug 2019</text>
<text x="62" y="942" font-size="10" fill="#000" textLength="52.06" lengthAdjust="spacingAndGlyphs" text-rendering="geometricPrecision" stroke="#000" stroke-width="0.25">19 Aug 2019</text>
<text x="126" y="942" font-size="10" fill="#000" textLength="52.06" lengthAdjust="spacingAndGlyphs" text-rendering="geometricPrecision" stroke="#000" stroke-width="0.25">28 Aug 2019</text>
<text x="190" y="942" font-size="10" fill="#000" textLength="47.42" lengthAdjust="spacingAndGlyphs" text-rendering="geometricPrecision" stroke="#000" stroke-width="0.25">6 Sep 2019</text>
<text x="254" y="942" font-size="10" fill="#000" textLength="52.57" lengthAdjust="spacingAndGlyphs" text-rendering="geometricPrecision" stroke="#000" stroke-width="0.25">16 Sep 2019</text>
<text x="318" y="942" font-size="10" fill="#000" textLength="52.57" lengthAdjust="spacingAndGlyphs" text-rendering="geometricPrecision" stroke="#000" stroke-width="0.25">25 Sep 2019</text>
<text x="382" y="942" font-size="10" fill="#000" textLength="45.35" lengthAdjust="spacingAndGlyphs" text-rendering="geometricPrecision" stroke="#000" stroke-width="0.25">4 Oct 2019</text>
<text x="446" y="942" font-size="10" fill="#000" textLength="50.5" lengthAdjust="spacingAndGlyphs" text-rendering="geometricPrecision" stroke="#000" stroke-width="0.25">14 Oct 2019</text>
<text x="510" y="942" font-size="10" fill="#000" textLength="50.5" lengthAdjust="spacingAndGlyphs" text-rendering="geometricPrecision" stroke="#000" stroke-width="0.25">23 Oct 2019</text>
<text x="574" y="942" font-size="10" fill="#000" textLength="47.41" lengthAdjust="spacingAndGlyphs" text-rendering="geometricPrecision" stroke="#000" stroke-width="0.25">1 Nov 2019</text>
<text x="638" y="942" font-size="10" fill="#000" textLength="51.88" lengthAdjust="spacingAndGlyphs" text-rendering="geometricPrecision" stroke="#000" stroke-width="0.25">11 Nov 2019</text>
<text x="702" y="942" font-size="10" fill="#000" textLength="52.57" lengthAdjust="spacingAndGlyphs" text-rendering="geometricPrecision" stroke="#000" stroke-width="0.25">20 Nov 2019</text>
<text x="766" y="942" font-size="10" fill="#000" textLength="52.57" lengthAdjust="spacingAndGlyphs" text-rendering="geometricPrecision" stroke="#000" stroke-width="0.25">29 Nov 2019</text>
<text x="830" y="942" font-size="10" fill="#000" textLength="47.41" lengthAdjust="spacingAndGlyphs" text-rendering="geometricPrecision" stroke="#000" stroke-width="0.25">9 Dec 2019</text>
<text x="894" y="942" font-size="10" fill="#000" textLength="52.57" lengthAdjust="spacingAndGlyphs" text-rendering="geometricPrecision" stroke="#000" stroke-width="0.25">18 Dec 2019</text>
<text x="958" y="942" font-size="10" fill="#000" textLength="52.57" lengthAdjust="spacingAndGlyphs" text-rendering="geometricPrecision" stroke="#000" stroke-width="0.25">27 Dec 2019</text>
<text x="1022" y="942" font-size="10" fill="#000" textLength="45.87" lengthAdjust="spacingAndGlyphs" text-rendering="geometricPrecision" stroke="#000" stroke-width="0.25">6 Jan 2020</text>
<text x="1086" y="942" font-size="10" fill="#000" textLength="51.03" lengthAdjust="spacingAndGlyphs" text-rendering="geometricPrecision" stroke="#000" stroke-width="0.25">15 Jan 2020</text>
<text x="1150" y="942" font-size="10" fill="#000" textLength="51.03" lengthAdjust="spacingAndGlyphs" text-rendering="geometricPrecision" stroke="#000" stroke-width="0.25">24 Jan 2020</text>
<text x="1214" y="942" font-size="10" fill="#000" textLength="46.9" lengthAdjust="spacingAndGlyphs" text-rendering="geometricPrecision" stroke="#000" stroke-width="0.25">3 Feb 2020</text>
<text x="1278" y="942" font-size="10" fill="#000" textLength="52.05" lengthAdjust="spacingAndGlyphs" text-rendering="geometricPrecision" stroke="#000" stroke-width="0.25">12 Feb 2020</text>
<text x="1342" y="942" font-size="10" fill="#000" textLength="52.05" lengthAdjust="spacingAndGlyphs" text-rendering="geometricPrecision" stroke="#000" stroke-width="0.25">21 Feb 2020</text>
<path d="M1,39.5 L8.5,39.5 L4.75,34.5 Z" fill="#000"/>
<text x="13" y="40" font-size="10" fill="#000" textLength="47.7" lengthAdjust="spacingAndGlyphs" text-rendering="geometricPrecision" stroke="#000" stroke-width="0.25">DJ30-,Daily</text>
<text x="68.7" y="40" font-size="10" fill="#000" textLength="32.96" lengthAdjust="spacingAndGlyphs" text-rendering="geometricPrecision" stroke="#000" stroke-width="0.25">28047.0</text>
<text x="104.4" y="40" font-size="10" fill="#000" textLength="32.96" lengthAdjust="spacingAndGlyphs" text-rendering="geometricPrecision" stroke="#000" stroke-width="0.25">28231.0</text>
<text x="140.1" y="40" font-size="10" fill="#000" textLength="32.96" lengthAdjust="spacingAndGlyphs" text-rendering="geometricPrecision" stroke="#000" stroke-width="0.25">26975.0</text>
<text x="175.8" y="40" font-size="10" fill="#000" textLength="32.96" lengthAdjust="spacingAndGlyphs" text-rendering="geometricPrecision" stroke="#000" stroke-width="0.25">27145.0</text>
<text x="2" y="596" font-size="10" fill="#000" textLength="125.3" lengthAdjust="spacingAndGlyphs" text-rendering="geometricPrecision" stroke="#000" stroke-width="0.25">MACD(12,26,9) -169.65 88.13</text>
<text x="2" y="768" font-size="10" fill="#000" textLength="67.6" lengthAdjust="spacingAndGlyphs" text-rendering="geometricPrecision" stroke="#000" stroke-width="0.25">RSI(14) 22.9395</text>
</svg>
<svg width="1664" height="28" viewBox="0 0 1664 28" style="position:absolute;left:0;top:0" font-family="Liberation Sans, sans-serif">
<defs>
<pattern id="chk" width="2" height="2" patternUnits="userSpaceOnUse"><rect width="2" height="2" fill="#f0f0f0"/><rect width="1" height="1" fill="#fafafa"/><rect x="1" y="1" width="1" height="1" fill="#fafafa"/></pattern>
<linearGradient id="gold" x1="0" y1="0" x2="1" y2="1"><stop offset="0" stop-color="#fbe36a"/><stop offset="0.5" stop-color="#e8bc28"/><stop offset="1" stop-color="#b87c10"/></linearGradient>
<linearGradient id="srv" x1="0" y1="0" x2="1" y2="0"><stop offset="0" stop-color="#1a8cf0"/><stop offset="0.3" stop-color="#2aa0ff"/><stop offset="0.31" stop-color="#bfe2ff"/><stop offset="1" stop-color="#4aa8f8"/></linearGradient>
<linearGradient id="cld" x1="0" y1="0" x2="0" y2="1"><stop offset="0" stop-color="#ffffff"/><stop offset="1" stop-color="#c4d2ea"/></linearGradient>
<radialGradient id="lens" cx="0.4" cy="0.35" r="0.7"><stop offset="0" stop-color="#f4fbff"/><stop offset="1" stop-color="#b4dcf4"/></radialGradient>
<linearGradient id="cndl" x1="0" y1="0" x2="1" y2="0"><stop offset="0" stop-color="#10b010"/><stop offset="0.5" stop-color="#70f070"/><stop offset="1" stop-color="#10b010"/></linearGradient>
<linearGradient id="plus" x1="0" y1="0" x2="0" y2="1"><stop offset="0" stop-color="#60e860"/><stop offset="1" stop-color="#00a000"/></linearGradient>
<linearGradient id="hat" x1="0" y1="0" x2="0" y2="1"><stop offset="0" stop-color="#8cd0f4"/><stop offset="1" stop-color="#3494d4"/></linearGradient>
<linearGradient id="fun" x1="0" y1="0" x2="1" y2="1"><stop offset="0" stop-color="#fff6a0"/><stop offset="1" stop-color="#e8b020"/></linearGradient>
<radialGradient id="sig" cx="0.5" cy="0.5" r="0.5"><stop offset="0" stop-color="#c8d8f8"/><stop offset="1" stop-color="#e8eefc"/></radialGradient>
<linearGradient id="wtb" x1="0" y1="0" x2="0" y2="1"><stop offset="0" stop-color="#7ab0ec"/><stop offset="1" stop-color="#2c6cc0"/></linearGradient>
<linearGradient id="gq" x1="0" y1="0" x2="0" y2="1"><stop offset="0" stop-color="#40b830"/><stop offset="1" stop-color="#209010"/></linearGradient>
<linearGradient id="bq" x1="0" y1="0" x2="0" y2="1"><stop offset="0" stop-color="#1840c0"/><stop offset="1" stop-color="#3868e8"/></linearGradient>
<linearGradient id="bub" x1="0" y1="0" x2="0" y2="1"><stop offset="0" stop-color="#ffffff"/><stop offset="1" stop-color="#c8c8c8"/></linearGradient>
</defs>
<g shape-rendering="crispEdges">
<rect x="0" y="0" width="1664" height="23" fill="#f0f0f0"/>
<rect x="0" y="23" width="1664" height="1" fill="#f7f7f7"/>
<rect x="0" y="24" width="1664" height="1" fill="#a0a0a0"/>
<rect x="0" y="25" width="1664" height="1" fill="#696969"/>
<rect x="0" y="26" width="1664" height="2" fill="#fff"/>
<rect x="214" y="1" width="1" height="22" fill="#a0a0a0"/>
<rect x="309" y="1" width="1" height="22" fill="#a0a0a0"/>
<rect x="399" y="1" width="1" height="22" fill="#a0a0a0"/>
<rect x="461" y="1" width="1" height="22" fill="#a0a0a0"/>
<rect x="582" y="1" width="1" height="22" fill="#a0a0a0"/>
<rect x="649" y="1" width="1" height="22" fill="#a0a0a0"/>
<rect x="888" y="1" width="1" height="22" fill="#a0a0a0"/>
<rect x="1149" y="1" width="1" height="22" fill="#a0a0a0"/>
<rect x="214" y="0" width="1" height="24" fill="#a0a0a0"/><rect x="215" y="0" width="1" height="24" fill="#fff"/>
<rect x="582" y="0" width="1" height="24" fill="#a0a0a0"/><rect x="583" y="0" width="1" height="24" fill="#fff"/>
<rect x="888" y="0" width="1" height="24" fill="#a0a0a0"/><rect x="889" y="0" width="1" height="24" fill="#fff"/>
<rect x="218" y="2" width="3" height="1" fill="#a8a8a8"/>
<rect x="218" y="4" width="3" height="1" fill="#a8a8a8"/>
<rect x="218" y="6" width="3" height="1" fill="#a8a8a8"/>
<rect x="218" y="8" width="3" height="1" fill="#a8a8a8"/>
<rect x="218" y="10" width="3" height="1" fill="#a8a8a8"/>
<rect x="218" y="12" width="3" height="1" fill="#a8a8a8"/>
<rect x="218" y="14" width="3" height="1" fill="#a8a8a8"/>
<rect x="218" y="16" width="3" height="1" fill="#a8a8a8"/>
<rect x="218" y="18" width="3" height="1" fill="#a8a8a8"/>
<rect x="218" y="20" width="3" height="1" fill="#a8a8a8"/>
<rect x="586" y="2" width="3" height="1" fill="#a8a8a8"/>
<rect x="586" y="4" width="3" height="1" fill="#a8a8a8"/>
<rect x="586" y="6" width="3" height="1" fill="#a8a8a8"/>
<rect x="586" y="8" width="3" height="1" fill="#a8a8a8"/>
<rect x="586" y="10" width="3" height="1" fill="#a8a8a8"/>
<rect x="586" y="12" width="3" height="1" fill="#a8a8a8"/>
<rect x="586" y="14" width="3" height="1" fill="#a8a8a8"/>
<rect x="586" y="16" width="3" height="1" fill="#a8a8a8"/>
<rect x="586" y="18" width="3" height="1" fill="#a8a8a8"/>
<rect x="586" y="20" width="3" height="1" fill="#a8a8a8"/>
<rect x="892" y="2" width="3" height="1" fill="#a8a8a8"/>
<rect x="892" y="4" width="3" height="1" fill="#a8a8a8"/>
<rect x="892" y="6" width="3" height="1" fill="#a8a8a8"/>
<rect x="892" y="8" width="3" height="1" fill="#a8a8a8"/>
<rect x="892" y="10" width="3" height="1" fill="#a8a8a8"/>
<rect x="892" y="12" width="3" height="1" fill="#a8a8a8"/>
<rect x="892" y="14" width="3" height="1" fill="#a8a8a8"/>
<rect x="892" y="16" width="3" height="1" fill="#a8a8a8"/>
<rect x="892" y="18" width="3" height="1" fill="#a8a8a8"/>
<rect x="892" y="20" width="3" height="1" fill="#a8a8a8"/>
<rect x="252" y="0" width="25" height="22" fill="url(#chk)"/>
<rect x="252" y="0" width="25" height="1" fill="#a0a0a0"/>
<rect x="252" y="0" width="1" height="22" fill="#a0a0a0"/>
<rect x="252" y="22" width="26" height="1" fill="#fff"/>
<rect x="277" y="0" width="1" height="23" fill="#fff"/>
<rect x="404" y="0" width="25" height="22" fill="url(#chk)"/>
<rect x="404" y="0" width="25" height="1" fill="#a0a0a0"/>
<rect x="404" y="0" width="1" height="22" fill="#a0a0a0"/>
<rect x="404" y="22" width="26" height="1" fill="#fff"/>
<rect x="429" y="0" width="1" height="23" fill="#fff"/>
<rect x="432" y="0" width="25" height="22" fill="url(#chk)"/>
<rect x="432" y="0" width="25" height="1" fill="#a0a0a0"/>
<rect x="432" y="0" width="1" height="22" fill="#a0a0a0"/>
<rect x="432" y="22" width="26" height="1" fill="#fff"/>
<rect x="457" y="0" width="1" height="23" fill="#fff"/>
<rect x="592" y="0" width="25" height="22" fill="url(#chk)"/>
<rect x="592" y="0" width="25" height="1" fill="#a0a0a0"/>
<rect x="592" y="0" width="1" height="22" fill="#a0a0a0"/>
<rect x="592" y="22" width="26" height="1" fill="#fff"/>
<rect x="617" y="0" width="1" height="23" fill="#fff"/>
<rect x="1066" y="0" width="25" height="22" fill="url(#chk)"/>
<rect x="1066" y="0" width="25" height="1" fill="#a0a0a0"/>
<rect x="1066" y="0" width="1" height="22" fill="#a0a0a0"/>
<rect x="1066" y="22" width="26" height="1" fill="#fff"/>
<rect x="1091" y="0" width="1" height="23" fill="#fff"/>
</g>
<rect x="0" y="7" width="1.5" height="14" fill="#c4c4c4"/>
<rect x="0" y="14.4" width="3.8" height="3.2" fill="#10c010" stroke="#088008" stroke-width="0.5"/>
<text x="7" y="15.2" font-size="12" fill="#000" style="font-family:'Liberation Sans','Noto Sans CJK SC',sans-serif">新订单</text>
<path d="M60.6,5 L69.8,11.2 L70.8,14.6 L62.6,19.8 L55,14 Z" fill="#b47c14" stroke="#a06c0c" stroke-width="0.8" stroke-linejoin="round"/>
<path d="M60.4,5 C60.8,8 58,11.6 55.2,13.6 L62.6,18 L69.4,11.2 Z" fill="url(#gold)"/>
<path d="M56,14.2 L62.6,18.6 L69.8,11.8" stroke="#f4dc70" stroke-width="0.7" fill="none"/>
<path d="M85.3,5.6 L88,4.2 L96.6,4.2 L96.6,13 L85.3,13 Z" fill="url(#srv)"/>
<rect x="90.5" y="7.8" width="4.6" height="1.2" fill="#e8f4ff"/>
<path d="M86.2,19.5 C82.4,19.5 82.4,14.6 86,14.6 C86.4,11.8 90.2,11.4 91.4,13.6 C93,11.6 96.6,12.6 96.4,15 C100,15 100,19.5 96.5,19.5 Z" fill="url(#cld)" stroke="#5c7cb0" stroke-width="0.9"/>
<circle cx="119" cy="11.8" r="7.8" fill="#f2f5fc"/>
<path d="M119.4,11.8 L119.4,19.7 A7.9,7.9 0 0 0 126.9,11.8 A7.9,7.9 0 0 0 122.5,4.7 Z" fill="#b4d8b4" opacity="0.85"/>
<path d="M119.4,19.7 A7.9,7.9 0 0 0 126.9,11.8" stroke="#58a858" stroke-width="1.2" fill="none" opacity="0.8"/>
<path d="M119,19.6 A7.8,7.8 0 0 1 119,4 " stroke="#4068d8" stroke-width="1.1" fill="none" opacity="0.55"/>
<path d="M119,4 A7.8,7.8 0 0 1 126.8,11.8" stroke="#7090c0" stroke-width="1.1" fill="none" opacity="0.5"/>
<circle cx="119" cy="11.8" r="4.4" fill="none" stroke="#3c64d8" stroke-width="1.2" opacity="0.6"/>
<circle cx="119" cy="11.5" r="1.9" fill="#2858d0"/>
<path d="M119.6,12 L119.6,19.6" stroke="#18a018" stroke-width="1.3"/>
<path d="M138.3,12.2 L154,11.2 L148,19.8 L145,19.8 Z" fill="url(#fun)" stroke="#d09818" stroke-width="0.7"/>
<path d="M138.2,9.2 C140,6.5 142.2,8.6 142.6,6.2 C143.2,3.6 148.8,3.6 149.4,6.2 C149.8,8.4 152.6,6.2 154,7.4 C153.6,10.6 149.4,11.8 146,11.8 C142.4,11.8 138.6,11 138.2,9.2 Z" fill="url(#hat)" stroke="#2484b8" stroke-width="0.8"/>
<circle cx="150.5" cy="15.6" r="4.1" fill="#e82008"/>
<rect x="149" y="14.1" width="3" height="3" fill="#fff"/>
<text x="160.5" y="15.2" font-size="12" fill="#000" style="font-family:'Liberation Sans','Noto Sans CJK SC',sans-serif">自动交易</text>
<g stroke="#555" stroke-width="1.1" fill="none"><path d="M232.5,6.5 L232.5,19.8"/><path d="M229.5,17.6 L243.3,17.6"/></g><path d="M232.5,5.7 L230.7,8.2 L234.3,8.2 Z" fill="#555"/><path d="M244,17.6 L241.5,15.8 L241.5,19.4 Z" fill="#555"/>
<path d="M238.5,7.2 L238.5,16 M238.5,8.5 L241.2,8.5 M236,14.5 L238.5,14.5" stroke="#008000" stroke-width="1.4" fill="none"/>
<g stroke="#555" stroke-width="1.1" fill="none"><path d="M260.5,6.5 L260.5,19.8"/><path d="M257.5,17.6 L271.3,17.6"/></g><path d="M260.5,5.7 L258.7,8.2 L262.3,8.2 Z" fill="#555"/><path d="M272,17.6 L269.5,15.8 L269.5,19.4 Z" fill="#555"/>
<path d="M266.5,3.9 L266.5,16" stroke="#008000" stroke-width="1.2"/>
<rect x="264.3" y="6.2" width="4.4" height="7.8" fill="url(#cndl)" stroke="#008000" stroke-width="0.8"/>
<g stroke="#555" stroke-width="1.1" fill="none"><path d="M288.5,6.5 L288.5,19.8"/><path d="M285.5,17.6 L299.3,17.6"/></g><path d="M288.5,5.7 L286.7,8.2 L290.3,8.2 Z" fill="#555"/><path d="M300,17.6 L297.5,15.8 L297.5,19.4 Z" fill="#555"/>
<path d="M287.2,14.8 C290,13 291.5,9 293.3,9.3 C295.3,9.6 296.5,12.4 299,13" stroke="#189018" stroke-width="1.2" fill="none"/>
<path d="M328.2,14.3 L332.6,18.5" stroke="#a88008" stroke-width="3.6" stroke-linecap="round"/><path d="M328.2,14.3 L332.6,18.5" stroke="#f0d040" stroke-width="2.2" stroke-linecap="round"/><circle cx="324" cy="9.9" r="5.6" fill="url(#lens)" stroke="#3c8cd4" stroke-width="1.3"/><path d="M320.8,9.9 L327.2,9.9" stroke="#3884b8" stroke-width="1.8"/><path d="M324,6.7 L324,13.100000000000001" stroke="#3884b8" stroke-width="1.8"/>
<path d="M356.2,14.3 L360.6,18.5" stroke="#a88008" stroke-width="3.6" stroke-linecap="round"/><path d="M356.2,14.3 L360.6,18.5" stroke="#f0d040" stroke-width="2.2" stroke-linecap="round"/><circle cx="352" cy="9.9" r="5.6" fill="url(#lens)" stroke="#3c8cd4" stroke-width="1.3"/><path d="M348.8,9.9 L355.2,9.9" stroke="#3884b8" stroke-width="1.8"/>
<rect x="374" y="4" width="7.8" height="7.8" fill="url(#gq)"/>
<path d="M375.2,7.4 h5.4 v3.6 h-1 v-1 h-3.4 v1 h-1 Z" fill="#fff"/>
<rect x="376.4" y="8.4" width="3" height="0.8" fill="#40b830" opacity="0.6"/>
<rect x="375.2" y="5.2" width="0.9" height="0.9" fill="#fff" opacity="0.8"/>
<rect x="382" y="4" width="7.8" height="7.8" fill="url(#bq)"/>
<path d="M383.2,7.4 h5.4 v3.6 h-1 v-1 h-3.4 v1 h-1 Z" fill="#fff"/>
<rect x="384.4" y="8.4" width="3" height="0.8" fill="#3868e8" opacity="0.6"/>
<rect x="383.2" y="5.2" width="0.9" height="0.9" fill="#fff" opacity="0.8"/>
<rect x="374" y="12" width="7.8" height="7.8" fill="url(#bq)"/>
<path d="M375.2,15.4 h5.4 v3.6 h-1 v-1 h-3.4 v1 h-1 Z" fill="#fff"/>
<rect x="376.4" y="16.4" width="3" height="0.8" fill="#3868e8" opacity="0.6"/>
<rect x="375.2" y="13.2" width="0.9" height="0.9" fill="#fff" opacity="0.8"/>
<rect x="382" y="12" width="7.8" height="7.8" fill="url(#gq)"/>
<path d="M383.2,15.4 h5.4 v3.6 h-1 v-1 h-3.4 v1 h-1 Z" fill="#fff"/>
<rect x="384.4" y="16.4" width="3" height="0.8" fill="#40b830" opacity="0.6"/>
<rect x="383.2" y="13.2" width="0.9" height="0.9" fill="#fff" opacity="0.8"/>
<g stroke="#555" stroke-width="1.1" fill="none"><path d="M412.5,6.5 L412.5,19.8"/><path d="M409.5,17.6 L423.3,17.6"/></g><path d="M412.5,5.7 L410.7,8.2 L414.3,8.2 Z" fill="#555"/><path d="M424,17.6 L421.5,15.8 L421.5,19.4 Z" fill="#555"/>
<path d="M417.2,8.2 L421.2,11.5 L417.2,14.8 Z" fill="#60e060" stroke="#10a010" stroke-width="0.9"/>
<g stroke="#555" stroke-width="1.1" fill="none"><path d="M440.5,6.5 L440.5,19.8"/><path d="M437.5,17.6 L451.3,17.6"/></g><path d="M440.5,5.7 L438.7,8.2 L442.3,8.2 Z" fill="#555"/><path d="M452,17.6 L449.5,15.8 L449.5,19.4 Z" fill="#555"/>
<path d="M446.5,6 L446.5,16" stroke="#1070b0" stroke-width="1.2"/>
<path d="M447.6,11.4 L452,11.4 M447.6,11.4 L450.2,9.4 M447.6,11.4 L450.2,13.4" stroke="#d04000" stroke-width="1.2" fill="none"/>
<path d="M471.5,4.6 L479.4,4.6 L482.3,7.5 L482.3,17.5 L471.5,17.5 Z" fill="#fdfdfd" stroke="#909090" stroke-width="0.9"/>
<path d="M479.4,4.6 L479.4,7.5 L482.3,7.5" fill="#e8e8e8" stroke="#909090" stroke-width="0.7"/>
<path d="M475.2,7.5 C473.6,7.5 474,9.5 474,11 L474,14.5" stroke="#806040" stroke-width="0.8" fill="none"/>
<path d="M479,10.4 h4 v3.7 h3.7 v4 h-3.7 v3.6 h-4 v-3.6 h-3.7 v-4 h3.7 Z" fill="url(#plus)" stroke="#088008" stroke-width="0.8"/>
<path d="M492.8,11 h5.6 l-2.8,3 Z" fill="#000"/>
<circle cx="517" cy="11.7" r="6.5" fill="#f4f8fc" stroke="#1470d4" stroke-width="2.7"/>
<circle cx="517" cy="11.7" r="7.9" fill="none" stroke="#0c50a0" stroke-width="0.5"/>
<path d="M516.6,7.6 L516.6,11.8 L519.6,11.8" stroke="#202020" stroke-width="1.1" fill="none"/>
<g fill="#808080"><rect x="516.6" y="6.2" width="0.8" height="0.8"/><rect x="516.6" y="16.4" width="0.8" height="0.8"/><rect x="511.6" y="11.3" width="0.8" height="0.8"/><rect x="521.8" y="11.3" width="0.8" height="0.8"/></g>
<path d="M532,11 h5.6 l-2.8,3 Z" fill="#000"/>
<rect x="548.6" y="5.5" width="14.8" height="13" fill="#fff" stroke="#3472c4" stroke-width="1"/>
<rect x="548.2" y="5.1" width="15.6" height="2.4" fill="url(#wtb)"/>
<rect x="549" y="13" width="14" height="0.9" fill="#5a94dc"/>
<path d="M550.5,11.3 L552.4,11.3 L554.6,9.6 L556.4,10.6 L558.6,10.6 L561.6,9.3" stroke="#a02000" stroke-width="1.2" fill="none"/>
<path d="M550.8,16.4 L552.6,15.6 L554.6,16.4 L556.8,16 L559,14.2 L561.6,16.6" stroke="#109020" stroke-width="1.2" fill="none"/>
<path d="M570.6,11 h5.6 l-2.8,3 Z" fill="#000"/>
<path d="M600.2,5 L600.2,16 L602.9,13.5 L605.3,19 L606.9,18.1 L604.4,12.9 L608,12.6 Z" fill="#484848"/>
<g stroke="#404040" stroke-width="1" shape-rendering="crispEdges"><path d="M632.5,5 L632.5,11 M632.5,14 L632.5,20 M625,12.5 L631,12.5 M634,12.5 L640,12.5"/><path d="M666.5,6 L666.5,19"/><path d="M689,12.5 L701,12.5"/></g>
<path d="M717,19 L729.2,6.6" stroke="#404040" stroke-width="1.1"/>
<g stroke="#383838" stroke-width="1.05" fill="none"><path d="M743,13.5 L751,5.8 M744.5,17.5 L755.5,7 M748,19 L757,10.5"/><path d="M746,12 L745,18 M749.5,9 L748,17.5 M753,6 L751.5,14.5 M755,4 L754.5,11" stroke-width="0.8"/></g>
<text x="753.6" y="20.8" font-size="6.6" font-weight="bold" fill="#303030">E</text>
<g stroke="#404040" stroke-width="1" stroke-dasharray="1 1" shape-rendering="crispEdges"><path d="M772,5.5 L786,5.5 M772,8.5 L786,8.5 M772,12.5 L786,12.5 M772,16.5 L781,16.5"/></g>
<text x="782" y="20.7" font-size="6.6" font-weight="bold" fill="#303030">F</text>
<text x="803" y="16.9" font-size="12.2" fill="#505050" stroke="#505050" stroke-width="0.45" textLength="7.4" lengthAdjust="spacingAndGlyphs">A</text>
<rect x="829.5" y="6.5" width="11" height="12" fill="none" stroke="#404040" stroke-width="1" stroke-dasharray="1 1" shape-rendering="crispEdges"/>
<rect x="828" y="5" width="2.4" height="1.6" fill="#404040"/>
<text x="831.2" y="16.9" font-size="11.4" fill="#505050" stroke="#505050" stroke-width="0.5">T</text>
<path d="M859.4,6 L862.4,9 L859.4,10.4 L856.4,9 Z M866.4,18.8 L869.6,15.6 L866.4,14.2 L863.2,15.6 Z" fill="#404040"/>
<path d="M858.4,13 L860.4,15 L865.4,9.6" stroke="#404040" stroke-width="1.3" fill="none"/>
<path d="M876.8,10.9 h5.6 l-2.8,3 Z" fill="#000"/>
<text x="903.4" y="15.9" font-size="9.8" fill="#3c3c3c" textLength="12.6" lengthAdjust="spacingAndGlyphs">M1</text>
<text x="931.2" y="15.9" font-size="9.8" fill="#3c3c3c" textLength="12.8" lengthAdjust="spacingAndGlyphs">M5</text>
<text x="957.4" y="15.9" font-size="9.8" fill="#3c3c3c" textLength="17.6" lengthAdjust="spacingAndGlyphs">M15</text>
<text x="985.6" y="15.9" font-size="9.8" fill="#3c3c3c" textLength="17.4" lengthAdjust="spacingAndGlyphs">M30</text>
<text x="1016.4" y="15.9" font-size="9.8" fill="#3c3c3c" textLength="11.4" lengthAdjust="spacingAndGlyphs">H1</text>
<text x="1043.6" y="15.9" font-size="9.8" fill="#3c3c3c" textLength="12.2" lengthAdjust="spacingAndGlyphs">H4</text>
<text x="1072.8" y="15.9" font-size="9.8" fill="#3c3c3c" textLength="11" lengthAdjust="spacingAndGlyphs">D1</text>
<text x="1099.6" y="15.9" font-size="9.8" fill="#3c3c3c" textLength="13.2" lengthAdjust="spacingAndGlyphs">W1</text>
<text x="1126.8" y="15.9" font-size="9.8" fill="#3c3c3c" textLength="14" lengthAdjust="spacingAndGlyphs">MN</text>
<path d="M1616.4,12.8 L1612,16.8" stroke="#3c6cd0" stroke-width="2.2" stroke-linecap="round"/>
<circle cx="1619.4" cy="9.6" r="3.9" fill="#f6f9ff" stroke="#2c64d8" stroke-width="1.2"/>
<path d="M1638.4,13.6 C1638.4,10.6 1646.2,10.6 1646.2,13.8 C1646.2,16 1643.4,16.4 1641.6,16.2 L1640.2,18.4 L1640.4,16 C1639,15.6 1638.4,14.8 1638.4,13.6 Z" fill="url(#bub)" stroke="#8c8c8c" stroke-width="0.8"/>
<path d="M1645,8.8 C1645,3.6 1658.8,3.6 1658.8,9 C1658.8,12.8 1655.4,13.6 1654.6,13.6 L1655.6,15.6 L1652.4,13.8 C1648,14 1645,12 1645,8.8 Z" fill="url(#bub)" stroke="#8c8c8c" stroke-width="0.8"/>
</svg>
<div style="position:absolute;left:1px;top:48px;width:219px;height:64px;font-family:'Liberation Sans',sans-serif;">
 <div style="position:absolute;left:0;top:0;width:52px;height:25px;background:linear-gradient(#f55 0%,#e33 100%);border:1px solid #c00;box-sizing:border-box"></div>
 <div style="position:absolute;left:167px;top:0;width:52px;height:25px;background:linear-gradient(#f55 0%,#e33 100%);border:1px solid #c00;box-sizing:border-box"></div>
 <div style="position:absolute;left:0;top:24px;width:109px;height:40px;background:linear-gradient(#e03030 0%,#b00000 100%);"></div>
 <div style="position:absolute;left:111px;top:24px;width:108px;height:40px;background:linear-gradient(#e03030 0%,#b00000 100%);"></div>
 <div style="position:absolute;left:4px;top:24px;width:44px;height:1px;background:#f99"></div>
 <div style="position:absolute;left:171px;top:24px;width:44px;height:1px;background:#f99"></div>
 <div style="position:absolute;left:12px;top:5px;color:#fff;font-size:11.2px;line-height:14px;transform:scaleX(0.93);transform-origin:0 0">SELL</div>
 <div style="position:absolute;left:180px;top:5px;color:#fff;font-size:11.2px;line-height:14px">BUY</div>
 <div style="position:absolute;left:54px;top:0px;width:111px;height:22px;background:#fff;border:1px solid #aab;box-sizing:border-box"></div>
 <div style="position:absolute;left:55px;top:1px;width:20px;height:20px;background:linear-gradient(#f4f4f4,#d0d0d0);border-right:1px solid #aaa;box-sizing:border-box"></div>
 <div style="position:absolute;left:144px;top:1px;width:20px;height:20px;background:linear-gradient(#f4f4f4,#d0d0d0);border-left:1px solid #aaa;box-sizing:border-box"></div>
 <div style="position:absolute;left:62px;top:9px;width:0;height:0;border-left:2.5px solid transparent;border-right:2.5px solid transparent;border-top:3.5px solid #6070c8"></div>
 <div style="position:absolute;left:151px;top:9px;width:0;height:0;border-left:2.5px solid transparent;border-right:2.5px solid transparent;border-bottom:3.5px solid #6070c8"></div>
 <div style="position:absolute;left:76px;top:4px;width:64px;text-align:right;color:#000;font-size:12px;line-height:14px">1.00</div>
 <div style="position:absolute;left:16px;top:44.5px;color:#fff;font-size:11.8px;font-weight:bold;line-height:12px;letter-spacing:0.2px">27143</div>
 <div style="position:absolute;left:126px;top:44.5px;color:#fff;font-size:11.8px;font-weight:bold;line-height:12px;letter-spacing:0.2px">27151</div>
 <div style="position:absolute;left:53px;top:23.5px;color:#fff;font-size:34px;line-height:38px;transform:scaleX(0.87);transform-origin:0 0;-webkit-text-stroke:0.5px #cc1c1c">.5</div>
 <div style="position:absolute;left:164px;top:23.5px;color:#fff;font-size:34px;line-height:38px;transform:scaleX(0.87);transform-origin:0 0;-webkit-text-stroke:0.5px #cc1c1c">.5</div>
</div>

<div class="edge"></div>
</body></html>
